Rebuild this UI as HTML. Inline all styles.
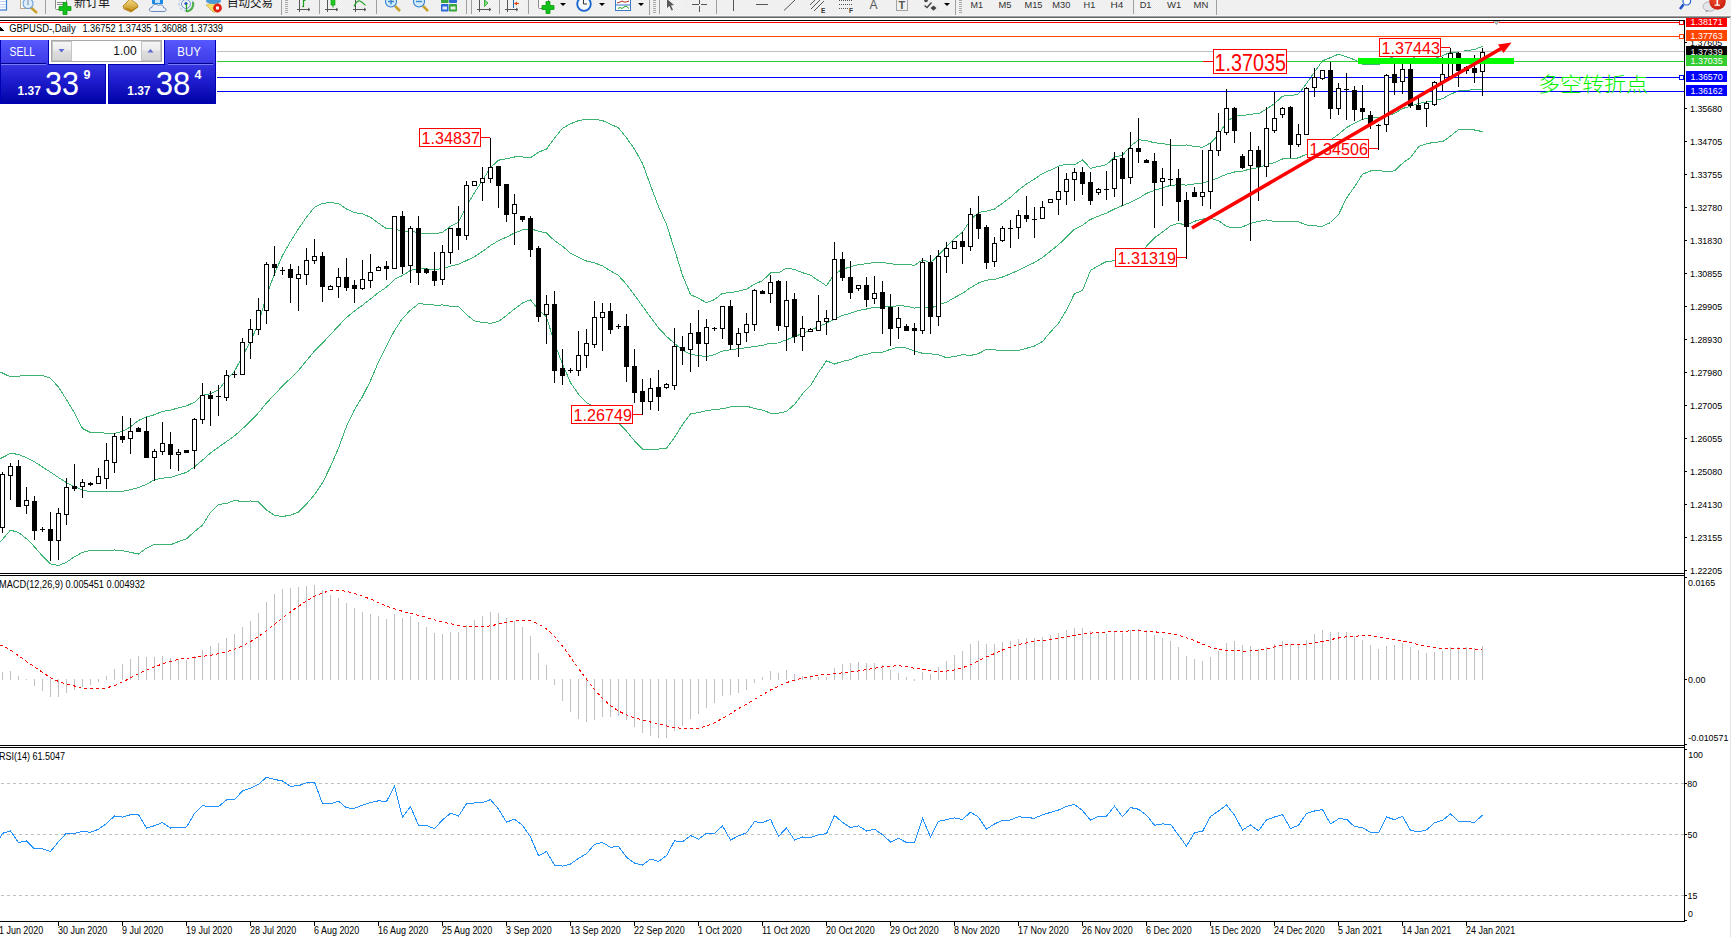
<!DOCTYPE html>
<html><head><meta charset="utf-8"><title>GBPUSD-,Daily</title>
<style>
html,body{margin:0;padding:0;background:#fff;width:1731px;height:937px;overflow:hidden;}
body{position:relative;font-family:"Liberation Sans","Noto Sans CJK SC",sans-serif;}
#tb{position:absolute;left:0;top:0;width:1731px;height:16px;background:#f0f0f0;overflow:hidden;}
#tbb{position:absolute;left:0;top:16px;width:1731px;height:1px;background:#a0a0a0;}
#tbl{position:absolute;left:0;top:15px;width:1731px;height:1px;background:#f6f6f6;}
#tbb2{position:absolute;left:0;top:17px;width:1731px;height:1px;background:#686868;}
#chart{position:absolute;left:0;top:0;}
.tt{position:absolute;font-size:11px;color:#222;line-height:11px;white-space:nowrap;}
.sep{position:absolute;top:0;width:1px;height:14px;background:#a0a0a0;}
#trade{position:absolute;left:0;top:40px;width:217px;height:64px;}
.bl{position:absolute;background:linear-gradient(#4848f4,#1010d8 50%,#0000a8);}
.bt{position:absolute;color:#fff;font-size:12px;line-height:12px;}
</style></head>
<body>
<div id="tb">
<svg width="1731" height="16" viewBox="0 0 1731 16" style="position:absolute;left:0;top:0">
<defs>
<pattern id="dith" width="2" height="2" patternUnits="userSpaceOnUse"><rect width="2" height="2" fill="#f7f7f7"/><rect width="1" height="1" fill="#ebebeb"/><rect x="1" y="1" width="1" height="1" fill="#ebebeb"/></pattern>
<linearGradient id="gb" x1="0" y1="0" x2="0" y2="1"><stop offset="0" stop-color="#f6e08a"/><stop offset="1" stop-color="#c08a10"/></linearGradient>
<radialGradient id="rb" cx="0.4" cy="0.35" r="0.7"><stop offset="0" stop-color="#f05030"/><stop offset="1" stop-color="#c81a08"/></radialGradient>
</defs>
<!-- doc icon partial -->
<rect x="-4.5" y="-3.5" width="11" height="13.5" fill="#fff" stroke="#3b7dd6" stroke-width="1.2"/>
<line x1="-4" y1="1.5" x2="6" y2="1.5" stroke="#b8cff0"/><line x1="-4" y1="4.5" x2="6" y2="4.5" stroke="#b8cff0"/><line x1="-4" y1="7" x2="6" y2="7" stroke="#b8cff0"/>
<!-- doc + magnifier -->
<rect x="20.5" y="-2.5" width="10" height="11" fill="#fbfbf6" stroke="#b8a78a"/>
<line x1="31" y1="7.5" x2="37" y2="13" stroke="#c9a02a" stroke-width="2.4"/>
<circle cx="28" cy="3.5" r="5" fill="#dcecf8" stroke="#6d9fd8" stroke-width="1.1"/>
<rect x="27" y="0" width="2" height="5" fill="#a9b9c8"/>
<rect x="45" y="0" width="1" height="14" fill="#a0a0a0"/>
<!-- new order -->
<rect x="55.5" y="-2.5" width="11" height="12" rx="1" fill="#fcfcfc" stroke="#8a8a8a"/>
<line x1="57" y1="2.5" x2="64" y2="2.5" stroke="#888"/><line x1="57" y1="4.5" x2="63" y2="4.5" stroke="#888"/>
<path d="M63 2.5h4v4h4v4h-4v4h-4v-4h-4v-4h4z" fill="#12c21a" stroke="#0a9a10" stroke-width="0.8"/>
<text x="74" y="6.6" font-family='"Liberation Sans","Noto Sans CJK SC",sans-serif' font-size="12.5" fill="#161616" textLength="36" lengthAdjust="spacingAndGlyphs">新订单</text>
<!-- gold book -->
<path d="M123 6 L130 -1 L137 4 L138 7 L131 12 L124 9 Z" fill="url(#gb)" stroke="#b07a10" stroke-width="0.8"/>
<path d="M126 8 L132 11 L137 7" fill="none" stroke="#a86e0a" stroke-width="0.8"/>
<!-- cloud terminal -->
<rect x="152" y="-1" width="11" height="5" fill="#1e88e5"/><rect x="155" y="0" width="5" height="3" fill="#bfe3ff"/>
<path d="M151.5 11.5 C148.5 11.5 148.5 7.5 152 7.5 C152.5 4 157 3.5 158.5 5.5 C160 4 164 5 163.5 7.8 C166.8 7.8 166.8 11.5 164 11.5 Z" fill="#eef2f8" stroke="#5a7db2" stroke-width="0.9"/>
<!-- wireless -->
<circle cx="186" cy="4" r="7" fill="none" stroke="#9cb8e8" stroke-width="1" stroke-dasharray="3 2"/>
<circle cx="186" cy="4" r="4.5" fill="none" stroke="#6a96dc" stroke-width="1"/>
<path d="M187 11.5 A7.5 7.5 0 0 0 193 2" fill="none" stroke="#4cae4c" stroke-width="2.2"/>
<circle cx="186" cy="3.5" r="1.6" fill="#2050c8"/><line x1="186.5" y1="4" x2="186.5" y2="12" stroke="#20a020" stroke-width="1.2"/>
<!-- auto trade -->
<path d="M206 5 L214 2 L221 5 L219 12 L213 12 Z" fill="#f3de6a" stroke="#b5a040" stroke-width="0.6"/>
<ellipse cx="213.5" cy="1" rx="7.5" ry="3" fill="#4a9ad8"/>
<circle cx="217.5" cy="8" r="4.4" fill="#e02010"/><rect x="216" y="6.5" width="3" height="3" fill="#fff"/>
<text x="227" y="6.6" font-family='"Liberation Sans","Noto Sans CJK SC",sans-serif' font-size="12.5" fill="#161616" textLength="46" lengthAdjust="spacingAndGlyphs">自动交易</text>
<rect x="281" y="0" width="1" height="16" fill="#a0a0a0"/>
<g fill="#a8a8a8"><rect x="285" y="0" width="3" height="1"/><rect x="285" y="2" width="3" height="1"/><rect x="285" y="4" width="3" height="1"/><rect x="285" y="6" width="3" height="1"/><rect x="285" y="8" width="3" height="1"/><rect x="285" y="10" width="3" height="1"/><rect x="285" y="12" width="3" height="1"/></g>
<!-- bar chart -->
<g stroke="#555" stroke-width="1" fill="none"><line x1="299.5" y1="0" x2="299.5" y2="12"/><line x1="297" y1="9.5" x2="310" y2="9.5"/><path d="M308 8 L310 9.5 L308 11"/></g>
<path d="M302 6.5 H303.5 V0.5 H305.5" fill="none" stroke="#18a018" stroke-width="1.2"/>
<rect x="319" y="0" width="1" height="14" fill="#a0a0a0"/>
<rect x="320" y="0" width="23" height="14" fill="url(#dith)"/>
<g stroke="#555" stroke-width="1" fill="none"><line x1="327.5" y1="0" x2="327.5" y2="12"/><line x1="325" y1="9.5" x2="338" y2="9.5"/><path d="M336 8 L338 9.5 L336 11"/></g>
<line x1="333" y1="0" x2="333" y2="7.5" stroke="#129012"/><rect x="331" y="-1" width="4" height="6" fill="#22cc22" stroke="#129012" stroke-width="0.6"/>
<!-- line chart -->
<g stroke="#555" stroke-width="1" fill="none"><line x1="355.5" y1="0" x2="355.5" y2="12"/><line x1="353" y1="9.5" x2="366" y2="9.5"/><path d="M364 8 L366 9.5 L364 11"/></g>
<path d="M354 6.5 Q357 0 360 1 Q362 2 365.5 5.3" fill="none" stroke="#22a022" stroke-width="1.1"/>
<rect x="376" y="0" width="1" height="14" fill="#a0a0a0"/>
<!-- zoom in / out -->
<line x1="395" y1="6" x2="400" y2="11" stroke="#c9a02a" stroke-width="2.5"/>
<circle cx="391" cy="1.5" r="5.5" fill="#d4ecfa" stroke="#2f7fd0" stroke-width="1.1"/>
<path d="M388 1.5 h6 M391 -1.5 v6" stroke="#3a86c8" stroke-width="1.4"/>
<line x1="423" y1="6" x2="428" y2="11" stroke="#c9a02a" stroke-width="2.5"/>
<circle cx="419" cy="1.5" r="5.5" fill="#d4ecfa" stroke="#2f7fd0" stroke-width="1.1"/>
<path d="M416 1.5 h6" stroke="#3a86c8" stroke-width="1.4"/>
<!-- tile -->
<rect x="441" y="-1" width="7.5" height="4" rx="0.8" fill="#3aa53a"/><rect x="449" y="-1" width="8" height="4" rx="0.8" fill="#2d6ad8"/>
<rect x="441" y="4" width="7.5" height="7.5" rx="0.8" fill="#2d6ad8"/><rect x="449" y="4" width="8" height="7.5" rx="0.8" fill="#3aa53a"/>
<rect x="442.5" y="6.5" width="4.5" height="3" fill="#fff" opacity="0.85"/><rect x="450.5" y="6.5" width="5" height="3" fill="#fff" opacity="0.85"/>
<rect x="466" y="0" width="1" height="14" fill="#a0a0a0"/><rect x="471" y="0" width="1" height="14" fill="#a0a0a0"/>
<rect x="472" y="0" width="24" height="14" fill="url(#dith)"/>
<g stroke="#555" stroke-width="1" fill="none"><line x1="479.5" y1="0" x2="479.5" y2="12"/><line x1="477" y1="9.5" x2="491" y2="9.5"/><path d="M489 8 L491 9.5 L489 11"/></g>
<path d="M484.5 0 L488 3 L484.5 6.5 Z" fill="#7ee07e" stroke="#22a022" stroke-width="0.8"/>
<rect x="499" y="0" width="1" height="14" fill="#a0a0a0"/>
<rect x="500" y="0" width="24" height="14" fill="url(#dith)"/>
<g stroke="#555" stroke-width="1" fill="none"><line x1="507.5" y1="0" x2="507.5" y2="12"/><line x1="505" y1="9.5" x2="518" y2="9.5"/><path d="M516 8 L518 9.5 L516 11"/></g>
<line x1="513.5" y1="0" x2="513.5" y2="8" stroke="#1a6ab0" stroke-width="1"/>
<path d="M514 3.5 L517 1.5 L517 3 L519 3 L519 4 L517 4 L517 5.5 Z" fill="#e0440a"/>
<rect x="528" y="0" width="1" height="14" fill="#a0a0a0"/>
<!-- new order 2 -->
<rect x="538.5" y="-2.5" width="10" height="11" rx="1" fill="#fcfcfc" stroke="#8a8a8a"/>
<path d="M546 1.5h4v4h4v4h-4v4h-4v-4h-4v-4h4z" fill="#12c21a" stroke="#0a9a10" stroke-width="0.8"/>
<path d="M560 3 h6 l-3 3 z" fill="#000"/>
<!-- clock -->
<circle cx="584" cy="4" r="6.8" fill="#f8f8f8" stroke="#1464d0" stroke-width="1.8"/>
<path d="M583.5 0 V4 H587" fill="none" stroke="#333" stroke-width="1"/>
<path d="M599 3 h6 l-3 3 z" fill="#000"/>
<!-- indicators -->
<rect x="615.5" y="-1.5" width="15" height="12" fill="#fff" stroke="#3a78c8" stroke-width="1"/>
<line x1="616" y1="5" x2="630" y2="5" stroke="#3a78c8"/>
<path d="M617 3 L620 2 L622 1 L624 2 L626 2 L629 1" fill="none" stroke="#b03020" stroke-width="1"/>
<path d="M618 8.5 L620 7.5 L622 8.5 L624 7 L626 6 L629 8.5" fill="none" stroke="#20a020" stroke-width="1"/>
<path d="M638 3 h6 l-3 3 z" fill="#000"/>
<rect x="649" y="0" width="1" height="16" fill="#a0a0a0"/>
<g fill="#a8a8a8"><rect x="653" y="0" width="3" height="1"/><rect x="653" y="2" width="3" height="1"/><rect x="653" y="4" width="3" height="1"/><rect x="653" y="6" width="3" height="1"/><rect x="653" y="8" width="3" height="1"/><rect x="653" y="10" width="3" height="1"/><rect x="653" y="12" width="3" height="1"/></g>
<rect x="659" y="0" width="1" height="14" fill="#a0a0a0"/>
<rect x="660" y="0" width="23" height="14" fill="url(#dith)"/>
<path d="M667 -1 L674 5 L671 5.5 L673 10 L671.5 10.5 L669.5 6 L667 8 Z" fill="#5a5a5a"/>
<!-- crosshair etc -->
<g fill="#555"><rect x="692" y="4" width="7" height="1"/><rect x="701" y="4" width="6" height="1"/><rect x="699" y="0" width="1" height="4"/><rect x="699" y="6" width="1" height="6"/></g>
<rect x="716" y="0" width="1" height="14" fill="#a0a0a0"/>
<rect x="733" y="0" width="1" height="11" fill="#555"/>
<rect x="756" y="4" width="12" height="1" fill="#555"/>
<line x1="784" y1="10.5" x2="795" y2="0" stroke="#555" stroke-width="1"/>
<g stroke="#555" stroke-width="1"><line x1="810" y1="5" x2="816" y2="-1"/><line x1="811" y1="9" x2="821" y2="-1"/><line x1="814" y1="11" x2="824" y2="1"/></g>
<text x="821" y="13" font-family='"Liberation Sans",sans-serif' font-size="6.5" font-weight="bold" fill="#333">E</text>
<g stroke="#555" stroke-width="1" stroke-dasharray="1 1"><line x1="839" y1="0.5" x2="852" y2="0.5"/><line x1="839" y1="4.5" x2="852" y2="4.5"/><line x1="839" y1="8.5" x2="848" y2="8.5"/></g>
<text x="849" y="13" font-family='"Liberation Sans",sans-serif' font-size="6.5" font-weight="bold" fill="#333">F</text>
<text x="869.5" y="9" font-family='"Liberation Sans",sans-serif' font-size="12" fill="#555">A</text>
<rect x="896.5" y="-1.5" width="11" height="12" fill="none" stroke="#555" stroke-dasharray="1 1"/>
<text x="898.5" y="8.5" font-family='"Liberation Sans",sans-serif' font-size="11" font-weight="bold" fill="#555">T</text>
<g fill="#444"><circle cx="926" cy="0.5" r="1.8"/><path d="M924.5 5.5 L927 7.5 L931.5 2.5" fill="none" stroke="#444" stroke-width="1.3"/><path d="M933.5 5.5 L936.5 8 L933.5 10.8 L930.5 8 Z"/></g>
<path d="M944 3 h6 l-3 3 z" fill="#000"/>
<rect x="955" y="0" width="1" height="16" fill="#a0a0a0"/>
<g fill="#a8a8a8"><rect x="959" y="0" width="3" height="1"/><rect x="959" y="2" width="3" height="1"/><rect x="959" y="4" width="3" height="1"/><rect x="959" y="6" width="3" height="1"/><rect x="959" y="8" width="3" height="1"/><rect x="959" y="10" width="3" height="1"/><rect x="959" y="12" width="3" height="1"/></g>
<g font-family='"Liberation Sans",sans-serif' font-size="9.6" fill="#333">
<text x="970.5" y="8" textLength="12.5" lengthAdjust="spacingAndGlyphs">M1</text>
<text x="998.5" y="8" textLength="13" lengthAdjust="spacingAndGlyphs">M5</text>
<text x="1024.5" y="8" textLength="18" lengthAdjust="spacingAndGlyphs">M15</text>
<text x="1052.3" y="8" textLength="18" lengthAdjust="spacingAndGlyphs">M30</text>
<text x="1083.5" y="8" textLength="11.8" lengthAdjust="spacingAndGlyphs">H1</text>
<text x="1110.5" y="8" textLength="12.8" lengthAdjust="spacingAndGlyphs">H4</text>
</g>
<rect x="1133" y="0" width="1" height="14" fill="#a0a0a0"/>
<rect x="1134" y="0" width="24" height="14" fill="url(#dith)"/>
<g font-family='"Liberation Sans",sans-serif' font-size="9.6" fill="#333">
<text x="1139.7" y="8" textLength="11.8" lengthAdjust="spacingAndGlyphs">D1</text>
<text x="1167" y="8" textLength="14.3" lengthAdjust="spacingAndGlyphs">W1</text>
<text x="1193.6" y="8" textLength="14.9" lengthAdjust="spacingAndGlyphs">MN</text>
</g>
<rect x="1216" y="0" width="1" height="16" fill="#a0a0a0"/>
<!-- search -->
<line x1="1683.5" y1="4.5" x2="1680" y2="9" stroke="#2050c8" stroke-width="2.6"/>
<circle cx="1686.8" cy="1.2" r="3.8" fill="#fff" stroke="#2a62d4" stroke-width="1.2"/>
<!-- notify -->
<ellipse cx="1709.5" cy="6.5" rx="6.5" ry="4.8" fill="#e4e6ec" stroke="#a8a8b0" stroke-width="0.8"/>
<path d="M1706 10 L1705.5 12.5 L1709 10.5 Z" fill="#999"/>
<circle cx="1717.5" cy="1.5" r="8.2" fill="url(#rb)"/>
<rect x="1716.5" y="-3" width="1.6" height="8" fill="#fff"/><rect x="1714.5" y="4.6" width="5.5" height="1.2" fill="#fff"/>
</svg>

</div>
<div id="tbl"></div><div id="tbb"></div><div id="tbb2"></div>
<svg id="chart" width="1731" height="937" viewBox="0 0 1731 937" shape-rendering="crispEdges">
<polyline points="0.0,372.0 2.5,373.0 10.5,376.9 18.5,376.1 26.5,375.6 34.5,375.4 42.5,375.4 50.5,378.2 58.5,387.1 66.5,399.6 74.5,413.0 82.5,428.5 90.5,432.5 98.5,432.8 106.5,433.1 114.5,433.5 122.5,431.4 130.5,426.9 138.5,420.4 146.5,417.0 154.5,414.7 162.5,411.4 170.5,410.1 178.5,407.9 186.5,405.9 194.5,402.2 202.5,395.2 210.5,393.8 218.5,390.0 226.5,379.6 234.5,371.3 242.5,356.1 250.5,341.1 258.5,323.7 266.5,295.8 274.5,273.6 282.5,255.5 290.5,241.5 298.5,228.8 306.5,217.2 314.5,207.1 322.5,203.2 330.5,202.7 338.5,203.5 346.5,209.0 354.5,212.5 362.5,213.9 370.5,217.3 378.5,223.2 386.5,228.6 394.5,227.8 402.5,232.7 410.5,230.7 418.5,233.2 426.5,233.6 434.5,233.9 442.5,232.3 450.5,226.2 458.5,222.3 466.5,206.3 474.5,192.6 482.5,180.4 490.5,167.5 498.5,160.2 506.5,158.7 514.5,157.0 522.5,156.9 530.5,157.8 538.5,152.2 546.5,149.1 554.5,138.1 562.5,128.2 570.5,123.8 578.5,120.6 586.5,119.2 594.5,119.1 602.5,120.6 610.5,124.2 618.5,127.8 626.5,137.8 634.5,149.1 642.5,163.4 650.5,185.4 658.5,206.5 666.5,224.5 674.5,249.4 682.5,275.2 690.5,294.6 698.5,298.3 706.5,302.7 714.5,299.6 722.5,293.3 730.5,292.6 738.5,291.1 746.5,289.3 754.5,284.2 762.5,280.7 770.5,273.0 778.5,272.9 786.5,268.1 794.5,269.5 802.5,272.7 810.5,275.2 818.5,280.6 826.5,285.8 834.5,273.9 842.5,269.2 850.5,266.8 858.5,264.6 866.5,263.7 874.5,262.4 882.5,262.5 890.5,263.8 898.5,264.4 906.5,264.1 914.5,265.4 922.5,259.8 930.5,262.8 938.5,254.9 946.5,246.8 954.5,238.5 962.5,232.1 970.5,219.9 978.5,212.4 986.5,211.1 994.5,209.0 1002.5,203.2 1010.5,197.4 1018.5,190.0 1026.5,184.1 1034.5,179.0 1042.5,173.5 1050.5,170.1 1058.5,166.1 1066.5,164.2 1074.5,164.9 1082.5,159.9 1090.5,168.4 1098.5,166.5 1106.5,164.7 1114.5,157.1 1122.5,155.0 1130.5,146.3 1138.5,139.7 1146.5,140.7 1154.5,142.8 1162.5,143.6 1170.5,145.0 1178.5,146.0 1186.5,144.9 1194.5,146.5 1202.5,147.2 1210.5,143.0 1218.5,134.8 1226.5,121.8 1234.5,116.2 1242.5,115.6 1250.5,114.1 1258.5,113.8 1266.5,109.2 1274.5,103.6 1282.5,96.1 1290.5,95.7 1298.5,94.0 1306.5,83.5 1314.5,72.0 1322.5,60.8 1330.5,57.6 1338.5,54.1 1346.5,56.9 1354.5,59.7 1362.5,64.1 1370.5,64.6 1378.5,64.6 1386.5,59.9 1394.5,56.1 1402.5,53.8 1410.5,55.1 1418.5,60.2 1426.5,60.5 1434.5,58.6 1442.5,55.7 1450.5,52.4 1458.5,52.2 1466.5,50.4 1474.5,49.7 1482.5,46.2" fill="none" stroke="#3cb371" stroke-width="1" />
<polyline points="0.0,458.7 2.5,457.6 10.5,453.2 18.5,454.5 26.5,457.6 34.5,461.8 42.5,467.0 50.5,472.2 58.5,477.5 66.5,482.6 74.5,486.7 82.5,489.9 90.5,491.7 98.5,491.7 106.5,491.6 114.5,491.5 122.5,491.3 130.5,489.7 138.5,487.6 146.5,484.3 154.5,479.6 162.5,478.1 170.5,477.5 178.5,474.8 186.5,472.4 194.5,466.8 202.5,460.1 210.5,453.0 218.5,447.2 226.5,441.6 234.5,435.9 242.5,428.8 250.5,421.1 258.5,412.8 266.5,403.0 274.5,394.5 282.5,386.0 290.5,378.3 298.5,370.5 306.5,360.6 314.5,350.9 322.5,343.0 330.5,334.6 338.5,325.9 346.5,317.6 354.5,311.0 362.5,305.2 370.5,299.0 378.5,292.5 386.5,287.2 394.5,279.3 402.5,275.5 410.5,270.4 418.5,268.5 426.5,268.9 434.5,269.5 442.5,268.7 450.5,266.2 458.5,264.2 466.5,260.5 474.5,256.7 482.5,251.4 490.5,245.4 498.5,240.8 506.5,237.1 514.5,233.0 522.5,229.9 530.5,228.8 538.5,231.2 546.5,233.0 554.5,240.7 562.5,246.2 570.5,253.2 578.5,257.4 586.5,261.0 594.5,262.9 602.5,265.9 610.5,270.9 618.5,275.5 626.5,284.5 634.5,295.0 642.5,306.2 650.5,317.2 658.5,327.8 666.5,336.3 674.5,343.4 682.5,350.0 690.5,354.2 698.5,355.5 706.5,356.6 714.5,354.5 722.5,351.1 730.5,349.8 738.5,348.6 746.5,347.7 754.5,346.4 762.5,345.4 770.5,343.1 778.5,343.0 786.5,339.7 794.5,336.9 802.5,333.2 810.5,330.3 818.5,326.6 826.5,323.3 834.5,318.9 842.5,315.3 850.5,313.3 858.5,310.4 866.5,309.0 874.5,307.3 882.5,307.3 890.5,306.5 898.5,305.8 906.5,306.1 914.5,308.1 922.5,306.6 930.5,308.3 938.5,304.8 946.5,302.3 954.5,297.5 962.5,293.4 970.5,287.7 978.5,283.0 986.5,280.2 994.5,279.4 1002.5,277.0 1010.5,273.8 1018.5,270.3 1026.5,266.2 1034.5,262.5 1042.5,257.5 1050.5,251.1 1058.5,244.7 1066.5,237.1 1074.5,229.2 1082.5,225.2 1090.5,219.4 1098.5,216.1 1106.5,213.1 1114.5,209.0 1122.5,205.6 1130.5,202.3 1138.5,198.4 1146.5,193.4 1154.5,190.3 1162.5,187.8 1170.5,185.4 1178.5,184.7 1186.5,185.1 1194.5,183.9 1202.5,183.2 1210.5,180.7 1218.5,177.7 1226.5,174.2 1234.5,172.0 1242.5,171.2 1250.5,168.8 1258.5,167.6 1266.5,164.6 1274.5,162.5 1282.5,159.0 1290.5,158.8 1298.5,157.9 1306.5,154.2 1314.5,149.0 1322.5,143.6 1330.5,140.0 1338.5,134.4 1346.5,127.6 1354.5,123.2 1362.5,119.2 1370.5,117.8 1378.5,117.5 1386.5,115.8 1394.5,113.4 1402.5,108.6 1410.5,106.3 1418.5,103.4 1426.5,102.2 1434.5,100.4 1442.5,98.7 1450.5,94.2 1458.5,91.0 1466.5,90.1 1474.5,89.9 1482.5,88.9" fill="none" stroke="#3cb371" stroke-width="1" />
<polyline points="0.0,541.7 2.5,539.4 10.5,530.1 18.5,532.5 26.5,538.7 34.5,546.8 42.5,556.2 50.5,563.8 58.5,565.7 66.5,562.2 74.5,556.7 82.5,552.4 90.5,550.5 98.5,550.5 106.5,550.2 114.5,550.0 122.5,550.7 130.5,552.4 138.5,554.0 146.5,548.1 154.5,544.5 162.5,544.8 170.5,544.8 178.5,541.6 186.5,538.8 194.5,531.5 202.5,525.1 210.5,512.3 218.5,504.4 226.5,503.5 234.5,500.4 242.5,501.6 250.5,501.0 258.5,501.9 266.5,510.1 274.5,515.4 282.5,516.5 290.5,515.2 298.5,512.1 306.5,504.0 314.5,494.7 322.5,482.8 330.5,466.5 338.5,448.2 346.5,426.3 354.5,409.6 362.5,396.6 370.5,380.7 378.5,361.9 386.5,345.7 394.5,330.7 402.5,318.3 410.5,310.2 418.5,303.8 426.5,304.2 434.5,305.1 442.5,305.0 450.5,306.2 458.5,306.2 466.5,314.7 474.5,320.9 482.5,322.4 490.5,323.3 498.5,321.4 506.5,315.5 514.5,308.9 522.5,303.0 530.5,299.7 538.5,310.2 546.5,316.9 554.5,343.2 562.5,364.1 570.5,382.7 578.5,394.2 586.5,402.8 594.5,406.6 602.5,411.1 610.5,417.6 618.5,423.2 626.5,431.2 634.5,440.9 642.5,449.0 650.5,449.0 658.5,449.1 666.5,448.1 674.5,437.4 682.5,424.7 690.5,413.7 698.5,412.7 706.5,410.6 714.5,409.5 722.5,408.8 730.5,406.9 738.5,406.1 746.5,406.1 754.5,408.5 762.5,410.1 770.5,413.1 778.5,413.1 786.5,411.4 794.5,404.4 802.5,393.8 810.5,385.5 818.5,372.5 826.5,360.8 834.5,364.0 842.5,361.4 850.5,359.7 858.5,356.1 866.5,354.3 874.5,352.2 882.5,352.2 890.5,349.3 898.5,347.2 906.5,348.1 914.5,350.9 922.5,353.3 930.5,353.8 938.5,354.7 946.5,357.8 954.5,356.5 962.5,354.7 970.5,355.5 978.5,353.6 986.5,349.3 994.5,349.8 1002.5,350.8 1010.5,350.2 1018.5,350.5 1026.5,348.3 1034.5,346.0 1042.5,341.5 1050.5,332.0 1058.5,323.3 1066.5,310.1 1074.5,293.5 1082.5,290.6 1090.5,270.4 1098.5,265.6 1106.5,261.5 1114.5,260.8 1122.5,256.1 1130.5,258.2 1138.5,257.2 1146.5,246.1 1154.5,237.8 1162.5,232.1 1170.5,225.8 1178.5,223.3 1186.5,225.2 1194.5,221.3 1202.5,219.1 1210.5,218.4 1218.5,220.6 1226.5,226.6 1234.5,227.9 1242.5,226.9 1250.5,223.4 1258.5,221.4 1266.5,219.9 1274.5,221.4 1282.5,222.0 1290.5,221.9 1298.5,221.9 1306.5,224.9 1314.5,225.9 1322.5,226.3 1330.5,222.5 1338.5,214.7 1346.5,198.2 1354.5,186.8 1362.5,174.2 1370.5,171.0 1378.5,170.4 1386.5,171.7 1394.5,170.8 1402.5,163.3 1410.5,157.5 1418.5,146.7 1426.5,143.8 1434.5,142.2 1442.5,141.8 1450.5,136.0 1458.5,129.7 1466.5,129.9 1474.5,130.0 1482.5,131.6" fill="none" stroke="#3cb371" stroke-width="1" />
<rect x="0" y="22" width="1684" height="1" fill="#ff0000"/>
<rect x="0" y="36" width="1684" height="1" fill="#ff4500"/>
<rect x="0" y="51" width="1684" height="1" fill="#c0c0c0"/>
<rect x="0" y="61" width="1684" height="1" fill="#32cd32"/>
<rect x="0" y="77" width="1684" height="1" fill="#0000ff"/>
<rect x="0" y="91" width="1684" height="1" fill="#0000ff"/>
<rect x="2" y="472" width="1" height="61" fill="#000"/>
<rect x="0.5" y="474.5" width="4" height="53" fill="#fff" stroke="#000" stroke-width="1"/>
<rect x="10" y="463" width="1" height="37" fill="#000"/>
<rect x="8.5" y="466.5" width="4" height="9" fill="#fff" stroke="#000" stroke-width="1"/>
<rect x="18" y="460" width="1" height="47" fill="#000"/>
<rect x="16" y="466" width="5" height="41" fill="#000"/>
<rect x="26" y="487" width="1" height="27" fill="#000"/>
<rect x="24.5" y="500.5" width="4" height="5" fill="#fff" stroke="#000" stroke-width="1"/>
<rect x="34" y="496" width="1" height="44" fill="#000"/>
<rect x="32" y="501" width="5" height="30" fill="#000"/>
<rect x="42" y="527" width="1" height="5" fill="#000"/>
<rect x="40" y="529" width="5" height="1" fill="#000"/>
<rect x="50" y="512" width="1" height="49" fill="#000"/>
<rect x="48" y="529" width="5" height="12" fill="#000"/>
<rect x="58" y="508" width="1" height="52" fill="#000"/>
<rect x="56.5" y="513.5" width="4" height="27" fill="#fff" stroke="#000" stroke-width="1"/>
<rect x="66" y="478" width="1" height="47" fill="#000"/>
<rect x="64.5" y="487.5" width="4" height="27" fill="#fff" stroke="#000" stroke-width="1"/>
<rect x="74" y="464" width="1" height="27" fill="#000"/>
<rect x="72" y="486" width="5" height="3" fill="#000"/>
<rect x="82" y="479" width="1" height="19" fill="#000"/>
<rect x="80.5" y="482.5" width="4" height="4" fill="#fff" stroke="#000" stroke-width="1"/>
<rect x="90" y="482" width="1" height="4" fill="#000"/>
<rect x="88" y="483" width="5" height="2" fill="#000"/>
<rect x="98" y="468" width="1" height="16" fill="#000"/>
<rect x="96.5" y="476.5" width="4" height="7" fill="#fff" stroke="#000" stroke-width="1"/>
<rect x="106" y="443" width="1" height="46" fill="#000"/>
<rect x="104.5" y="460.5" width="4" height="18" fill="#fff" stroke="#000" stroke-width="1"/>
<rect x="114" y="433" width="1" height="40" fill="#000"/>
<rect x="112.5" y="436.5" width="4" height="26" fill="#fff" stroke="#000" stroke-width="1"/>
<rect x="122" y="416" width="1" height="27" fill="#000"/>
<rect x="120" y="436" width="5" height="4" fill="#000"/>
<rect x="130" y="418" width="1" height="36" fill="#000"/>
<rect x="128.5" y="431.5" width="4" height="7" fill="#fff" stroke="#000" stroke-width="1"/>
<rect x="138" y="427" width="1" height="5" fill="#000"/>
<rect x="136" y="428" width="5" height="4" fill="#000"/>
<rect x="146" y="417" width="1" height="41" fill="#000"/>
<rect x="144" y="431" width="5" height="27" fill="#000"/>
<rect x="154" y="449" width="1" height="32" fill="#000"/>
<rect x="152.5" y="451.5" width="4" height="6" fill="#fff" stroke="#000" stroke-width="1"/>
<rect x="162" y="422" width="1" height="33" fill="#000"/>
<rect x="160.5" y="443.5" width="4" height="8" fill="#fff" stroke="#000" stroke-width="1"/>
<rect x="170" y="432" width="1" height="37" fill="#000"/>
<rect x="168" y="444" width="5" height="11" fill="#000"/>
<rect x="178" y="449" width="1" height="22" fill="#000"/>
<rect x="176.5" y="452.5" width="4" height="2" fill="#fff" stroke="#000" stroke-width="1"/>
<rect x="186" y="450" width="1" height="3" fill="#000"/>
<rect x="184" y="450" width="5" height="3" fill="#000"/>
<rect x="194" y="418" width="1" height="51" fill="#000"/>
<rect x="192.5" y="419.5" width="4" height="31" fill="#fff" stroke="#000" stroke-width="1"/>
<rect x="202" y="383" width="1" height="41" fill="#000"/>
<rect x="200.5" y="395.5" width="4" height="24" fill="#fff" stroke="#000" stroke-width="1"/>
<rect x="210" y="391" width="1" height="35" fill="#000"/>
<rect x="208" y="395" width="5" height="4" fill="#000"/>
<rect x="218" y="385" width="1" height="31" fill="#000"/>
<rect x="216" y="396" width="5" height="1" fill="#000"/>
<rect x="226" y="370" width="1" height="31" fill="#000"/>
<rect x="224.5" y="375.5" width="4" height="22" fill="#fff" stroke="#000" stroke-width="1"/>
<rect x="234" y="371" width="1" height="7" fill="#000"/>
<rect x="232" y="374" width="5" height="1" fill="#000"/>
<rect x="242" y="338" width="1" height="37" fill="#000"/>
<rect x="240.5" y="342.5" width="4" height="32" fill="#fff" stroke="#000" stroke-width="1"/>
<rect x="250" y="319" width="1" height="40" fill="#000"/>
<rect x="248.5" y="329.5" width="4" height="13" fill="#fff" stroke="#000" stroke-width="1"/>
<rect x="258" y="298" width="1" height="37" fill="#000"/>
<rect x="256.5" y="310.5" width="4" height="19" fill="#fff" stroke="#000" stroke-width="1"/>
<rect x="266" y="262" width="1" height="62" fill="#000"/>
<rect x="264.5" y="264.5" width="4" height="46" fill="#fff" stroke="#000" stroke-width="1"/>
<rect x="274" y="246" width="1" height="30" fill="#000"/>
<rect x="272" y="264" width="5" height="4" fill="#000"/>
<rect x="282" y="267" width="1" height="8" fill="#000"/>
<rect x="280" y="270" width="5" height="1" fill="#000"/>
<rect x="290" y="264" width="1" height="39" fill="#000"/>
<rect x="288" y="269" width="5" height="9" fill="#000"/>
<rect x="298" y="266" width="1" height="45" fill="#000"/>
<rect x="296.5" y="274.5" width="4" height="4" fill="#fff" stroke="#000" stroke-width="1"/>
<rect x="306" y="248" width="1" height="37" fill="#000"/>
<rect x="304.5" y="260.5" width="4" height="14" fill="#fff" stroke="#000" stroke-width="1"/>
<rect x="314" y="239" width="1" height="25" fill="#000"/>
<rect x="312.5" y="256.5" width="4" height="4" fill="#fff" stroke="#000" stroke-width="1"/>
<rect x="322" y="252" width="1" height="50" fill="#000"/>
<rect x="320" y="256" width="5" height="31" fill="#000"/>
<rect x="330" y="285" width="1" height="5" fill="#000"/>
<rect x="328.5" y="286.5" width="4" height="3" fill="#fff" stroke="#000" stroke-width="1"/>
<rect x="338" y="268" width="1" height="30" fill="#000"/>
<rect x="336.5" y="277.5" width="4" height="9" fill="#fff" stroke="#000" stroke-width="1"/>
<rect x="346" y="258" width="1" height="33" fill="#000"/>
<rect x="344" y="277" width="5" height="11" fill="#000"/>
<rect x="354" y="280" width="1" height="23" fill="#000"/>
<rect x="352" y="285" width="5" height="4" fill="#000"/>
<rect x="362" y="260" width="1" height="30" fill="#000"/>
<rect x="360.5" y="279.5" width="4" height="9" fill="#fff" stroke="#000" stroke-width="1"/>
<rect x="370" y="254" width="1" height="34" fill="#000"/>
<rect x="368.5" y="272.5" width="4" height="8" fill="#fff" stroke="#000" stroke-width="1"/>
<rect x="378" y="266" width="1" height="5" fill="#000"/>
<rect x="376.5" y="267.5" width="4" height="3" fill="#fff" stroke="#000" stroke-width="1"/>
<rect x="386" y="261" width="1" height="19" fill="#000"/>
<rect x="384" y="266" width="5" height="3" fill="#000"/>
<rect x="394" y="216" width="1" height="53" fill="#000"/>
<rect x="392.5" y="216.5" width="4" height="52" fill="#fff" stroke="#000" stroke-width="1"/>
<rect x="402" y="211" width="1" height="63" fill="#000"/>
<rect x="400" y="216" width="5" height="51" fill="#000"/>
<rect x="410" y="226" width="1" height="57" fill="#000"/>
<rect x="408.5" y="228.5" width="4" height="37" fill="#fff" stroke="#000" stroke-width="1"/>
<rect x="418" y="216" width="1" height="69" fill="#000"/>
<rect x="416" y="228" width="5" height="45" fill="#000"/>
<rect x="426" y="268" width="1" height="6" fill="#000"/>
<rect x="424" y="269" width="5" height="4" fill="#000"/>
<rect x="434" y="252" width="1" height="34" fill="#000"/>
<rect x="432" y="271" width="5" height="10" fill="#000"/>
<rect x="442" y="245" width="1" height="40" fill="#000"/>
<rect x="440.5" y="252.5" width="4" height="27" fill="#fff" stroke="#000" stroke-width="1"/>
<rect x="450" y="228" width="1" height="36" fill="#000"/>
<rect x="448.5" y="228.5" width="4" height="24" fill="#fff" stroke="#000" stroke-width="1"/>
<rect x="458" y="206" width="1" height="44" fill="#000"/>
<rect x="456" y="228" width="5" height="8" fill="#000"/>
<rect x="466" y="181" width="1" height="59" fill="#000"/>
<rect x="464.5" y="185.5" width="4" height="50" fill="#fff" stroke="#000" stroke-width="1"/>
<rect x="474" y="181" width="1" height="5" fill="#000"/>
<rect x="472.5" y="181.5" width="4" height="4" fill="#fff" stroke="#000" stroke-width="1"/>
<rect x="482" y="167" width="1" height="34" fill="#000"/>
<rect x="480.5" y="178.5" width="4" height="4" fill="#fff" stroke="#000" stroke-width="1"/>
<rect x="490" y="138" width="1" height="45" fill="#000"/>
<rect x="488.5" y="167.5" width="4" height="11" fill="#fff" stroke="#000" stroke-width="1"/>
<rect x="498" y="166" width="1" height="42" fill="#000"/>
<rect x="496" y="166" width="5" height="20" fill="#000"/>
<rect x="506" y="184" width="1" height="38" fill="#000"/>
<rect x="504" y="184" width="5" height="31" fill="#000"/>
<rect x="514" y="194" width="1" height="51" fill="#000"/>
<rect x="512.5" y="204.5" width="4" height="9" fill="#fff" stroke="#000" stroke-width="1"/>
<rect x="522" y="216" width="1" height="6" fill="#000"/>
<rect x="520" y="216" width="5" height="4" fill="#000"/>
<rect x="530" y="216" width="1" height="41" fill="#000"/>
<rect x="528" y="218" width="5" height="32" fill="#000"/>
<rect x="538" y="246" width="1" height="76" fill="#000"/>
<rect x="536" y="248" width="5" height="69" fill="#000"/>
<rect x="546" y="295" width="1" height="49" fill="#000"/>
<rect x="544.5" y="304.5" width="4" height="10" fill="#fff" stroke="#000" stroke-width="1"/>
<rect x="554" y="291" width="1" height="92" fill="#000"/>
<rect x="552" y="304" width="5" height="67" fill="#000"/>
<rect x="562" y="349" width="1" height="36" fill="#000"/>
<rect x="560" y="368" width="5" height="8" fill="#000"/>
<rect x="570" y="368" width="1" height="5" fill="#000"/>
<rect x="568" y="370" width="5" height="1" fill="#000"/>
<rect x="578" y="331" width="1" height="45" fill="#000"/>
<rect x="576.5" y="355.5" width="4" height="15" fill="#fff" stroke="#000" stroke-width="1"/>
<rect x="586" y="329" width="1" height="39" fill="#000"/>
<rect x="584.5" y="343.5" width="4" height="12" fill="#fff" stroke="#000" stroke-width="1"/>
<rect x="594" y="301" width="1" height="47" fill="#000"/>
<rect x="592.5" y="317.5" width="4" height="27" fill="#fff" stroke="#000" stroke-width="1"/>
<rect x="602" y="303" width="1" height="48" fill="#000"/>
<rect x="600.5" y="312.5" width="4" height="5" fill="#fff" stroke="#000" stroke-width="1"/>
<rect x="610" y="303" width="1" height="31" fill="#000"/>
<rect x="608" y="311" width="5" height="19" fill="#000"/>
<rect x="618" y="324" width="1" height="5" fill="#000"/>
<rect x="616" y="326" width="5" height="1" fill="#000"/>
<rect x="626" y="314" width="1" height="68" fill="#000"/>
<rect x="624" y="326" width="5" height="41" fill="#000"/>
<rect x="634" y="349" width="1" height="54" fill="#000"/>
<rect x="632" y="366" width="5" height="27" fill="#000"/>
<rect x="642" y="379" width="1" height="36" fill="#000"/>
<rect x="640" y="391" width="5" height="11" fill="#000"/>
<rect x="650" y="378" width="1" height="32" fill="#000"/>
<rect x="648.5" y="388.5" width="4" height="13" fill="#fff" stroke="#000" stroke-width="1"/>
<rect x="658" y="370" width="1" height="41" fill="#000"/>
<rect x="656" y="387" width="5" height="10" fill="#000"/>
<rect x="666" y="383" width="1" height="6" fill="#000"/>
<rect x="664.5" y="384.5" width="4" height="3" fill="#fff" stroke="#000" stroke-width="1"/>
<rect x="674" y="328" width="1" height="62" fill="#000"/>
<rect x="672.5" y="346.5" width="4" height="39" fill="#fff" stroke="#000" stroke-width="1"/>
<rect x="682" y="336" width="1" height="29" fill="#000"/>
<rect x="680" y="347" width="5" height="4" fill="#000"/>
<rect x="690" y="323" width="1" height="49" fill="#000"/>
<rect x="688.5" y="333.5" width="4" height="16" fill="#fff" stroke="#000" stroke-width="1"/>
<rect x="698" y="310" width="1" height="57" fill="#000"/>
<rect x="696" y="332" width="5" height="12" fill="#000"/>
<rect x="706" y="319" width="1" height="42" fill="#000"/>
<rect x="704.5" y="327.5" width="4" height="16" fill="#fff" stroke="#000" stroke-width="1"/>
<rect x="714" y="327" width="1" height="4" fill="#000"/>
<rect x="712" y="328" width="5" height="1" fill="#000"/>
<rect x="722" y="306" width="1" height="33" fill="#000"/>
<rect x="720.5" y="306.5" width="4" height="22" fill="#fff" stroke="#000" stroke-width="1"/>
<rect x="730" y="300" width="1" height="50" fill="#000"/>
<rect x="728" y="306" width="5" height="39" fill="#000"/>
<rect x="738" y="328" width="1" height="29" fill="#000"/>
<rect x="736.5" y="333.5" width="4" height="11" fill="#fff" stroke="#000" stroke-width="1"/>
<rect x="746" y="313" width="1" height="29" fill="#000"/>
<rect x="744.5" y="324.5" width="4" height="8" fill="#fff" stroke="#000" stroke-width="1"/>
<rect x="754" y="289" width="1" height="42" fill="#000"/>
<rect x="752.5" y="290.5" width="4" height="34" fill="#fff" stroke="#000" stroke-width="1"/>
<rect x="762" y="290" width="1" height="4" fill="#000"/>
<rect x="760" y="291" width="5" height="3" fill="#000"/>
<rect x="770" y="275" width="1" height="28" fill="#000"/>
<rect x="768.5" y="282.5" width="4" height="11" fill="#fff" stroke="#000" stroke-width="1"/>
<rect x="778" y="280" width="1" height="51" fill="#000"/>
<rect x="776" y="281" width="5" height="45" fill="#000"/>
<rect x="786" y="281" width="1" height="70" fill="#000"/>
<rect x="784.5" y="300.5" width="4" height="26" fill="#fff" stroke="#000" stroke-width="1"/>
<rect x="794" y="293" width="1" height="50" fill="#000"/>
<rect x="792" y="299" width="5" height="38" fill="#000"/>
<rect x="802" y="316" width="1" height="35" fill="#000"/>
<rect x="800.5" y="328.5" width="4" height="8" fill="#fff" stroke="#000" stroke-width="1"/>
<rect x="810" y="328" width="1" height="4" fill="#000"/>
<rect x="808.5" y="329.5" width="4" height="2" fill="#fff" stroke="#000" stroke-width="1"/>
<rect x="818" y="295" width="1" height="36" fill="#000"/>
<rect x="816.5" y="321.5" width="4" height="9" fill="#fff" stroke="#000" stroke-width="1"/>
<rect x="826" y="310" width="1" height="25" fill="#000"/>
<rect x="824.5" y="318.5" width="4" height="3" fill="#fff" stroke="#000" stroke-width="1"/>
<rect x="834" y="242" width="1" height="78" fill="#000"/>
<rect x="832.5" y="259.5" width="4" height="60" fill="#fff" stroke="#000" stroke-width="1"/>
<rect x="842" y="252" width="1" height="29" fill="#000"/>
<rect x="840" y="259" width="5" height="19" fill="#000"/>
<rect x="850" y="261" width="1" height="38" fill="#000"/>
<rect x="848" y="277" width="5" height="16" fill="#000"/>
<rect x="858" y="285" width="1" height="6" fill="#000"/>
<rect x="856.5" y="285.5" width="4" height="3" fill="#fff" stroke="#000" stroke-width="1"/>
<rect x="866" y="277" width="1" height="30" fill="#000"/>
<rect x="864" y="285" width="5" height="15" fill="#000"/>
<rect x="874" y="276" width="1" height="28" fill="#000"/>
<rect x="872.5" y="293.5" width="4" height="5" fill="#fff" stroke="#000" stroke-width="1"/>
<rect x="882" y="281" width="1" height="53" fill="#000"/>
<rect x="880" y="292" width="5" height="17" fill="#000"/>
<rect x="890" y="294" width="1" height="52" fill="#000"/>
<rect x="888" y="307" width="5" height="22" fill="#000"/>
<rect x="898" y="307" width="1" height="32" fill="#000"/>
<rect x="896.5" y="318.5" width="4" height="9" fill="#fff" stroke="#000" stroke-width="1"/>
<rect x="906" y="324" width="1" height="7" fill="#000"/>
<rect x="904" y="326" width="5" height="5" fill="#000"/>
<rect x="914" y="323" width="1" height="32" fill="#000"/>
<rect x="912" y="328" width="5" height="3" fill="#000"/>
<rect x="922" y="258" width="1" height="76" fill="#000"/>
<rect x="920.5" y="262.5" width="4" height="68" fill="#fff" stroke="#000" stroke-width="1"/>
<rect x="930" y="255" width="1" height="79" fill="#000"/>
<rect x="928" y="262" width="5" height="55" fill="#000"/>
<rect x="938" y="250" width="1" height="76" fill="#000"/>
<rect x="936.5" y="256.5" width="4" height="60" fill="#fff" stroke="#000" stroke-width="1"/>
<rect x="946" y="242" width="1" height="31" fill="#000"/>
<rect x="944.5" y="248.5" width="4" height="8" fill="#fff" stroke="#000" stroke-width="1"/>
<rect x="954" y="241" width="1" height="8" fill="#000"/>
<rect x="952.5" y="241.5" width="4" height="7" fill="#fff" stroke="#000" stroke-width="1"/>
<rect x="962" y="232" width="1" height="32" fill="#000"/>
<rect x="960" y="241" width="5" height="6" fill="#000"/>
<rect x="970" y="208" width="1" height="43" fill="#000"/>
<rect x="968.5" y="214.5" width="4" height="32" fill="#fff" stroke="#000" stroke-width="1"/>
<rect x="978" y="196" width="1" height="43" fill="#000"/>
<rect x="976" y="214" width="5" height="15" fill="#000"/>
<rect x="986" y="225" width="1" height="44" fill="#000"/>
<rect x="984" y="227" width="5" height="36" fill="#000"/>
<rect x="994" y="237" width="1" height="30" fill="#000"/>
<rect x="992.5" y="243.5" width="4" height="18" fill="#fff" stroke="#000" stroke-width="1"/>
<rect x="1002" y="226" width="1" height="16" fill="#000"/>
<rect x="1000.5" y="228.5" width="4" height="12" fill="#fff" stroke="#000" stroke-width="1"/>
<rect x="1010" y="220" width="1" height="28" fill="#000"/>
<rect x="1008" y="228" width="5" height="1" fill="#000"/>
<rect x="1018" y="210" width="1" height="29" fill="#000"/>
<rect x="1016.5" y="215.5" width="4" height="12" fill="#fff" stroke="#000" stroke-width="1"/>
<rect x="1026" y="196" width="1" height="26" fill="#000"/>
<rect x="1024" y="215" width="5" height="4" fill="#000"/>
<rect x="1034" y="207" width="1" height="31" fill="#000"/>
<rect x="1032" y="219" width="5" height="1" fill="#000"/>
<rect x="1042" y="201" width="1" height="18" fill="#000"/>
<rect x="1040.5" y="207.5" width="4" height="11" fill="#fff" stroke="#000" stroke-width="1"/>
<rect x="1050" y="199" width="1" height="4" fill="#000"/>
<rect x="1048.5" y="199.5" width="4" height="3" fill="#fff" stroke="#000" stroke-width="1"/>
<rect x="1058" y="167" width="1" height="48" fill="#000"/>
<rect x="1056.5" y="191.5" width="4" height="8" fill="#fff" stroke="#000" stroke-width="1"/>
<rect x="1066" y="173" width="1" height="32" fill="#000"/>
<rect x="1064.5" y="179.5" width="4" height="12" fill="#fff" stroke="#000" stroke-width="1"/>
<rect x="1074" y="168" width="1" height="33" fill="#000"/>
<rect x="1072.5" y="172.5" width="4" height="7" fill="#fff" stroke="#000" stroke-width="1"/>
<rect x="1082" y="167" width="1" height="28" fill="#000"/>
<rect x="1080" y="172" width="5" height="12" fill="#000"/>
<rect x="1090" y="172" width="1" height="33" fill="#000"/>
<rect x="1088" y="182" width="5" height="19" fill="#000"/>
<rect x="1098" y="188" width="1" height="7" fill="#000"/>
<rect x="1096.5" y="189.5" width="4" height="3" fill="#fff" stroke="#000" stroke-width="1"/>
<rect x="1106" y="171" width="1" height="29" fill="#000"/>
<rect x="1104" y="189" width="5" height="1" fill="#000"/>
<rect x="1114" y="152" width="1" height="45" fill="#000"/>
<rect x="1112.5" y="159.5" width="4" height="29" fill="#fff" stroke="#000" stroke-width="1"/>
<rect x="1122" y="152" width="1" height="54" fill="#000"/>
<rect x="1120" y="158" width="5" height="21" fill="#000"/>
<rect x="1130" y="132" width="1" height="52" fill="#000"/>
<rect x="1128.5" y="148.5" width="4" height="29" fill="#fff" stroke="#000" stroke-width="1"/>
<rect x="1138" y="118" width="1" height="45" fill="#000"/>
<rect x="1136" y="148" width="5" height="4" fill="#000"/>
<rect x="1146" y="159" width="1" height="4" fill="#000"/>
<rect x="1144" y="160" width="5" height="3" fill="#000"/>
<rect x="1154" y="153" width="1" height="75" fill="#000"/>
<rect x="1152" y="161" width="5" height="22" fill="#000"/>
<rect x="1162" y="168" width="1" height="38" fill="#000"/>
<rect x="1160.5" y="178.5" width="4" height="3" fill="#fff" stroke="#000" stroke-width="1"/>
<rect x="1170" y="139" width="1" height="47" fill="#000"/>
<rect x="1168" y="179" width="5" height="1" fill="#000"/>
<rect x="1178" y="169" width="1" height="52" fill="#000"/>
<rect x="1176" y="178" width="5" height="24" fill="#000"/>
<rect x="1186" y="192" width="1" height="67" fill="#000"/>
<rect x="1184" y="200" width="5" height="27" fill="#000"/>
<rect x="1194" y="187" width="1" height="10" fill="#000"/>
<rect x="1192" y="192" width="5" height="5" fill="#000"/>
<rect x="1202" y="150" width="1" height="56" fill="#000"/>
<rect x="1200.5" y="192.5" width="4" height="4" fill="#fff" stroke="#000" stroke-width="1"/>
<rect x="1210" y="143" width="1" height="66" fill="#000"/>
<rect x="1208.5" y="150.5" width="4" height="41" fill="#fff" stroke="#000" stroke-width="1"/>
<rect x="1218" y="113" width="1" height="43" fill="#000"/>
<rect x="1216.5" y="131.5" width="4" height="19" fill="#fff" stroke="#000" stroke-width="1"/>
<rect x="1226" y="89" width="1" height="46" fill="#000"/>
<rect x="1224.5" y="108.5" width="4" height="24" fill="#fff" stroke="#000" stroke-width="1"/>
<rect x="1234" y="107" width="1" height="36" fill="#000"/>
<rect x="1232" y="108" width="5" height="23" fill="#000"/>
<rect x="1242" y="154" width="1" height="15" fill="#000"/>
<rect x="1240" y="156" width="5" height="12" fill="#000"/>
<rect x="1250" y="132" width="1" height="109" fill="#000"/>
<rect x="1248.5" y="150.5" width="4" height="15" fill="#fff" stroke="#000" stroke-width="1"/>
<rect x="1258" y="146" width="1" height="55" fill="#000"/>
<rect x="1256" y="150" width="5" height="17" fill="#000"/>
<rect x="1266" y="107" width="1" height="70" fill="#000"/>
<rect x="1264.5" y="128.5" width="4" height="38" fill="#fff" stroke="#000" stroke-width="1"/>
<rect x="1274" y="92" width="1" height="41" fill="#000"/>
<rect x="1272.5" y="118.5" width="4" height="12" fill="#fff" stroke="#000" stroke-width="1"/>
<rect x="1282" y="107" width="1" height="11" fill="#000"/>
<rect x="1280.5" y="108.5" width="4" height="6" fill="#fff" stroke="#000" stroke-width="1"/>
<rect x="1290" y="106" width="1" height="52" fill="#000"/>
<rect x="1288" y="107" width="5" height="38" fill="#000"/>
<rect x="1298" y="124" width="1" height="23" fill="#000"/>
<rect x="1296.5" y="134.5" width="4" height="10" fill="#fff" stroke="#000" stroke-width="1"/>
<rect x="1306" y="87" width="1" height="48" fill="#000"/>
<rect x="1304.5" y="88.5" width="4" height="46" fill="#fff" stroke="#000" stroke-width="1"/>
<rect x="1314" y="68" width="1" height="29" fill="#000"/>
<rect x="1312.5" y="77.5" width="4" height="10" fill="#fff" stroke="#000" stroke-width="1"/>
<rect x="1322" y="70" width="1" height="10" fill="#000"/>
<rect x="1320.5" y="70.5" width="4" height="8" fill="#fff" stroke="#000" stroke-width="1"/>
<rect x="1330" y="62" width="1" height="57" fill="#000"/>
<rect x="1328" y="70" width="5" height="39" fill="#000"/>
<rect x="1338" y="83" width="1" height="32" fill="#000"/>
<rect x="1336.5" y="88.5" width="4" height="20" fill="#fff" stroke="#000" stroke-width="1"/>
<rect x="1346" y="73" width="1" height="47" fill="#000"/>
<rect x="1344" y="89" width="5" height="1" fill="#000"/>
<rect x="1354" y="86" width="1" height="35" fill="#000"/>
<rect x="1352" y="90" width="5" height="20" fill="#000"/>
<rect x="1362" y="85" width="1" height="35" fill="#000"/>
<rect x="1360" y="108" width="5" height="4" fill="#000"/>
<rect x="1370" y="111" width="1" height="18" fill="#000"/>
<rect x="1368" y="115" width="5" height="10" fill="#000"/>
<rect x="1378" y="124" width="1" height="26" fill="#000"/>
<rect x="1376" y="125" width="5" height="1" fill="#000"/>
<rect x="1386" y="74" width="1" height="58" fill="#000"/>
<rect x="1384.5" y="75.5" width="4" height="49" fill="#fff" stroke="#000" stroke-width="1"/>
<rect x="1394" y="64" width="1" height="31" fill="#000"/>
<rect x="1392" y="74" width="5" height="9" fill="#000"/>
<rect x="1402" y="64" width="1" height="30" fill="#000"/>
<rect x="1400.5" y="69.5" width="4" height="12" fill="#fff" stroke="#000" stroke-width="1"/>
<rect x="1410" y="63" width="1" height="45" fill="#000"/>
<rect x="1408" y="69" width="5" height="37" fill="#000"/>
<rect x="1418" y="98" width="1" height="12" fill="#000"/>
<rect x="1416" y="105" width="5" height="5" fill="#000"/>
<rect x="1426" y="101" width="1" height="26" fill="#000"/>
<rect x="1424.5" y="103.5" width="4" height="5" fill="#fff" stroke="#000" stroke-width="1"/>
<rect x="1434" y="81" width="1" height="25" fill="#000"/>
<rect x="1432.5" y="82.5" width="4" height="22" fill="#fff" stroke="#000" stroke-width="1"/>
<rect x="1442" y="57" width="1" height="34" fill="#000"/>
<rect x="1440.5" y="74.5" width="4" height="7" fill="#fff" stroke="#000" stroke-width="1"/>
<rect x="1450" y="48" width="1" height="29" fill="#000"/>
<rect x="1448.5" y="53.5" width="4" height="23" fill="#fff" stroke="#000" stroke-width="1"/>
<rect x="1458" y="52" width="1" height="35" fill="#000"/>
<rect x="1456" y="53" width="5" height="18" fill="#000"/>
<rect x="1466" y="66" width="1" height="8" fill="#000"/>
<rect x="1464" y="67" width="5" height="4" fill="#000"/>
<rect x="1474" y="55" width="1" height="28" fill="#000"/>
<rect x="1472" y="68" width="5" height="5" fill="#000"/>
<rect x="1482" y="48" width="1" height="48" fill="#000"/>
<rect x="1480.5" y="52.5" width="4" height="19" fill="#fff" stroke="#000" stroke-width="1"/>
<rect x="1679.5" y="20.5" width="4" height="4" fill="#fff" stroke="#ff0000" stroke-width="1"/>
<rect x="1679.5" y="34.5" width="4" height="4" fill="#fff" stroke="#ff4500" stroke-width="1"/>
<rect x="1679.5" y="75.5" width="4" height="4" fill="#fff" stroke="#0000ff" stroke-width="1"/>
<rect x="1358" y="58" width="156" height="6" fill="#00ff00"/>
<polygon points="1492,20 1501,20 1496.5,25" fill="#b4b4b4"/>
<rect x="419.5" y="128.5" width="61" height="18" fill="#fff" stroke="#ff0000" stroke-width="1"/>
<text x="421.6" y="144" font-family='"Liberation Sans", "DejaVu Sans", sans-serif' font-size="16.6" fill="#ff0000" textLength="58.4" lengthAdjust="spacingAndGlyphs">1.34837</text>
<rect x="481" y="137" width="9" height="1" fill="#ff0000"/>
<rect x="571.5" y="405.5" width="61" height="18" fill="#fff" stroke="#ff0000" stroke-width="1"/>
<text x="573.6" y="421" font-family='"Liberation Sans", "DejaVu Sans", sans-serif' font-size="16.6" fill="#ff0000" textLength="58.4" lengthAdjust="spacingAndGlyphs">1.26749</text>
<rect x="633" y="414" width="9" height="1" fill="#ff0000"/>
<rect x="1115.5" y="248.5" width="61" height="18" fill="#fff" stroke="#ff0000" stroke-width="1"/>
<text x="1117.6" y="264" font-family='"Liberation Sans", "DejaVu Sans", sans-serif' font-size="16.6" fill="#ff0000" textLength="58.4" lengthAdjust="spacingAndGlyphs">1.31319</text>
<rect x="1177" y="257" width="9" height="1" fill="#ff0000"/>
<rect x="1307.5" y="139.5" width="61" height="18" fill="#fff" stroke="#ff0000" stroke-width="1"/>
<text x="1309.6" y="155" font-family='"Liberation Sans", "DejaVu Sans", sans-serif' font-size="16.6" fill="#ff0000" textLength="58.4" lengthAdjust="spacingAndGlyphs">1.34506</text>
<rect x="1369" y="148" width="9" height="1" fill="#ff0000"/>
<rect x="1379.5" y="38.5" width="61" height="18" fill="#fff" stroke="#ff0000" stroke-width="1"/>
<text x="1381.6" y="54" font-family='"Liberation Sans", "DejaVu Sans", sans-serif' font-size="16.6" fill="#ff0000" textLength="58.4" lengthAdjust="spacingAndGlyphs">1.37443</text>
<rect x="1441" y="47" width="9" height="1" fill="#ff0000"/>
<rect x="1213.5" y="49.5" width="73" height="24" fill="#fff" stroke="#ff0000" stroke-width="1"/>
<text x="1214.6" y="71" font-family='"Liberation Sans", "DejaVu Sans", sans-serif' font-size="23.6" fill="#ff0000" textLength="71.5" lengthAdjust="spacingAndGlyphs">1.37035</text>
<rect x="1203" y="61" width="10" height="1" fill="#ff0000"/>
<line x1="1192" y1="228" x2="1502" y2="48" stroke="#ff0000" stroke-width="3.6" shape-rendering="auto"/>
<polygon points="1511.5,42.5 1498,44.5 1503.5,53" fill="#ff0000" shape-rendering="auto"/>
<text x="1538" y="91.8" font-family='"Liberation Sans", "Noto Sans CJK SC", sans-serif' font-weight="300" font-size="20.5" fill="#00f000" textLength="110" lengthAdjust="spacingAndGlyphs">多空转折点</text>
<rect x="2" y="672" width="1" height="8" fill="#c0c0c0"/>
<rect x="10" y="671" width="1" height="9" fill="#c0c0c0"/>
<rect x="18" y="676" width="1" height="4" fill="#c0c0c0"/>
<rect x="26" y="679" width="1" height="1" fill="#c0c0c0"/>
<rect x="34" y="679" width="1" height="7" fill="#c0c0c0"/>
<rect x="42" y="679" width="1" height="12" fill="#c0c0c0"/>
<rect x="50" y="679" width="1" height="18" fill="#c0c0c0"/>
<rect x="58" y="679" width="1" height="18" fill="#c0c0c0"/>
<rect x="66" y="679" width="1" height="14" fill="#c0c0c0"/>
<rect x="74" y="679" width="1" height="11" fill="#c0c0c0"/>
<rect x="82" y="679" width="1" height="8" fill="#c0c0c0"/>
<rect x="90" y="679" width="1" height="6" fill="#c0c0c0"/>
<rect x="98" y="679" width="1" height="3" fill="#c0c0c0"/>
<rect x="106" y="676" width="1" height="4" fill="#c0c0c0"/>
<rect x="114" y="669" width="1" height="11" fill="#c0c0c0"/>
<rect x="122" y="664" width="1" height="16" fill="#c0c0c0"/>
<rect x="130" y="659" width="1" height="21" fill="#c0c0c0"/>
<rect x="138" y="656" width="1" height="24" fill="#c0c0c0"/>
<rect x="146" y="657" width="1" height="23" fill="#c0c0c0"/>
<rect x="154" y="657" width="1" height="23" fill="#c0c0c0"/>
<rect x="162" y="656" width="1" height="24" fill="#c0c0c0"/>
<rect x="170" y="658" width="1" height="22" fill="#c0c0c0"/>
<rect x="178" y="659" width="1" height="21" fill="#c0c0c0"/>
<rect x="186" y="660" width="1" height="20" fill="#c0c0c0"/>
<rect x="194" y="656" width="1" height="24" fill="#c0c0c0"/>
<rect x="202" y="650" width="1" height="30" fill="#c0c0c0"/>
<rect x="210" y="646" width="1" height="34" fill="#c0c0c0"/>
<rect x="218" y="643" width="1" height="37" fill="#c0c0c0"/>
<rect x="226" y="638" width="1" height="42" fill="#c0c0c0"/>
<rect x="234" y="634" width="1" height="46" fill="#c0c0c0"/>
<rect x="242" y="627" width="1" height="53" fill="#c0c0c0"/>
<rect x="250" y="621" width="1" height="59" fill="#c0c0c0"/>
<rect x="258" y="613" width="1" height="67" fill="#c0c0c0"/>
<rect x="266" y="602" width="1" height="78" fill="#c0c0c0"/>
<rect x="274" y="594" width="1" height="86" fill="#c0c0c0"/>
<rect x="282" y="589" width="1" height="91" fill="#c0c0c0"/>
<rect x="290" y="588" width="1" height="92" fill="#c0c0c0"/>
<rect x="298" y="587" width="1" height="93" fill="#c0c0c0"/>
<rect x="306" y="586" width="1" height="94" fill="#c0c0c0"/>
<rect x="314" y="585" width="1" height="95" fill="#c0c0c0"/>
<rect x="322" y="590" width="1" height="90" fill="#c0c0c0"/>
<rect x="330" y="595" width="1" height="85" fill="#c0c0c0"/>
<rect x="338" y="598" width="1" height="82" fill="#c0c0c0"/>
<rect x="346" y="603" width="1" height="77" fill="#c0c0c0"/>
<rect x="354" y="608" width="1" height="72" fill="#c0c0c0"/>
<rect x="362" y="612" width="1" height="68" fill="#c0c0c0"/>
<rect x="370" y="614" width="1" height="66" fill="#c0c0c0"/>
<rect x="378" y="616" width="1" height="64" fill="#c0c0c0"/>
<rect x="386" y="619" width="1" height="61" fill="#c0c0c0"/>
<rect x="394" y="614" width="1" height="66" fill="#c0c0c0"/>
<rect x="402" y="618" width="1" height="62" fill="#c0c0c0"/>
<rect x="410" y="616" width="1" height="64" fill="#c0c0c0"/>
<rect x="418" y="622" width="1" height="58" fill="#c0c0c0"/>
<rect x="426" y="627" width="1" height="53" fill="#c0c0c0"/>
<rect x="434" y="633" width="1" height="47" fill="#c0c0c0"/>
<rect x="442" y="634" width="1" height="46" fill="#c0c0c0"/>
<rect x="450" y="632" width="1" height="48" fill="#c0c0c0"/>
<rect x="458" y="632" width="1" height="48" fill="#c0c0c0"/>
<rect x="466" y="625" width="1" height="55" fill="#c0c0c0"/>
<rect x="474" y="620" width="1" height="60" fill="#c0c0c0"/>
<rect x="482" y="616" width="1" height="64" fill="#c0c0c0"/>
<rect x="490" y="612" width="1" height="68" fill="#c0c0c0"/>
<rect x="498" y="613" width="1" height="67" fill="#c0c0c0"/>
<rect x="506" y="618" width="1" height="62" fill="#c0c0c0"/>
<rect x="514" y="621" width="1" height="59" fill="#c0c0c0"/>
<rect x="522" y="627" width="1" height="53" fill="#c0c0c0"/>
<rect x="530" y="636" width="1" height="44" fill="#c0c0c0"/>
<rect x="538" y="653" width="1" height="27" fill="#c0c0c0"/>
<rect x="546" y="665" width="1" height="15" fill="#c0c0c0"/>
<rect x="554" y="679" width="1" height="6" fill="#c0c0c0"/>
<rect x="562" y="679" width="1" height="22" fill="#c0c0c0"/>
<rect x="570" y="679" width="1" height="33" fill="#c0c0c0"/>
<rect x="578" y="679" width="1" height="40" fill="#c0c0c0"/>
<rect x="586" y="679" width="1" height="43" fill="#c0c0c0"/>
<rect x="594" y="679" width="1" height="41" fill="#c0c0c0"/>
<rect x="602" y="679" width="1" height="38" fill="#c0c0c0"/>
<rect x="610" y="679" width="1" height="38" fill="#c0c0c0"/>
<rect x="618" y="679" width="1" height="37" fill="#c0c0c0"/>
<rect x="626" y="679" width="1" height="41" fill="#c0c0c0"/>
<rect x="634" y="679" width="1" height="48" fill="#c0c0c0"/>
<rect x="642" y="679" width="1" height="54" fill="#c0c0c0"/>
<rect x="650" y="679" width="1" height="57" fill="#c0c0c0"/>
<rect x="658" y="679" width="1" height="59" fill="#c0c0c0"/>
<rect x="666" y="679" width="1" height="59" fill="#c0c0c0"/>
<rect x="674" y="679" width="1" height="52" fill="#c0c0c0"/>
<rect x="682" y="679" width="1" height="47" fill="#c0c0c0"/>
<rect x="690" y="679" width="1" height="40" fill="#c0c0c0"/>
<rect x="698" y="679" width="1" height="35" fill="#c0c0c0"/>
<rect x="706" y="679" width="1" height="29" fill="#c0c0c0"/>
<rect x="714" y="679" width="1" height="24" fill="#c0c0c0"/>
<rect x="722" y="679" width="1" height="17" fill="#c0c0c0"/>
<rect x="730" y="679" width="1" height="16" fill="#c0c0c0"/>
<rect x="738" y="679" width="1" height="14" fill="#c0c0c0"/>
<rect x="746" y="679" width="1" height="11" fill="#c0c0c0"/>
<rect x="754" y="679" width="1" height="4" fill="#c0c0c0"/>
<rect x="762" y="677" width="1" height="3" fill="#c0c0c0"/>
<rect x="770" y="671" width="1" height="9" fill="#c0c0c0"/>
<rect x="778" y="673" width="1" height="7" fill="#c0c0c0"/>
<rect x="786" y="670" width="1" height="10" fill="#c0c0c0"/>
<rect x="794" y="674" width="1" height="6" fill="#c0c0c0"/>
<rect x="802" y="676" width="1" height="4" fill="#c0c0c0"/>
<rect x="810" y="677" width="1" height="3" fill="#c0c0c0"/>
<rect x="818" y="677" width="1" height="3" fill="#c0c0c0"/>
<rect x="826" y="677" width="1" height="3" fill="#c0c0c0"/>
<rect x="834" y="668" width="1" height="12" fill="#c0c0c0"/>
<rect x="842" y="664" width="1" height="16" fill="#c0c0c0"/>
<rect x="850" y="663" width="1" height="17" fill="#c0c0c0"/>
<rect x="858" y="662" width="1" height="18" fill="#c0c0c0"/>
<rect x="866" y="663" width="1" height="17" fill="#c0c0c0"/>
<rect x="874" y="663" width="1" height="17" fill="#c0c0c0"/>
<rect x="882" y="665" width="1" height="15" fill="#c0c0c0"/>
<rect x="890" y="670" width="1" height="10" fill="#c0c0c0"/>
<rect x="898" y="673" width="1" height="7" fill="#c0c0c0"/>
<rect x="906" y="677" width="1" height="3" fill="#c0c0c0"/>
<rect x="914" y="679" width="1" height="2" fill="#c0c0c0"/>
<rect x="922" y="672" width="1" height="8" fill="#c0c0c0"/>
<rect x="930" y="674" width="1" height="6" fill="#c0c0c0"/>
<rect x="938" y="667" width="1" height="13" fill="#c0c0c0"/>
<rect x="946" y="661" width="1" height="19" fill="#c0c0c0"/>
<rect x="954" y="655" width="1" height="25" fill="#c0c0c0"/>
<rect x="962" y="651" width="1" height="29" fill="#c0c0c0"/>
<rect x="970" y="644" width="1" height="36" fill="#c0c0c0"/>
<rect x="978" y="641" width="1" height="39" fill="#c0c0c0"/>
<rect x="986" y="644" width="1" height="36" fill="#c0c0c0"/>
<rect x="994" y="644" width="1" height="36" fill="#c0c0c0"/>
<rect x="1002" y="642" width="1" height="38" fill="#c0c0c0"/>
<rect x="1010" y="641" width="1" height="39" fill="#c0c0c0"/>
<rect x="1018" y="639" width="1" height="41" fill="#c0c0c0"/>
<rect x="1026" y="638" width="1" height="42" fill="#c0c0c0"/>
<rect x="1034" y="638" width="1" height="42" fill="#c0c0c0"/>
<rect x="1042" y="637" width="1" height="43" fill="#c0c0c0"/>
<rect x="1050" y="635" width="1" height="45" fill="#c0c0c0"/>
<rect x="1058" y="633" width="1" height="47" fill="#c0c0c0"/>
<rect x="1066" y="630" width="1" height="50" fill="#c0c0c0"/>
<rect x="1074" y="628" width="1" height="52" fill="#c0c0c0"/>
<rect x="1082" y="628" width="1" height="52" fill="#c0c0c0"/>
<rect x="1090" y="631" width="1" height="49" fill="#c0c0c0"/>
<rect x="1098" y="632" width="1" height="48" fill="#c0c0c0"/>
<rect x="1106" y="634" width="1" height="46" fill="#c0c0c0"/>
<rect x="1114" y="632" width="1" height="48" fill="#c0c0c0"/>
<rect x="1122" y="633" width="1" height="47" fill="#c0c0c0"/>
<rect x="1130" y="630" width="1" height="50" fill="#c0c0c0"/>
<rect x="1138" y="629" width="1" height="51" fill="#c0c0c0"/>
<rect x="1146" y="630" width="1" height="50" fill="#c0c0c0"/>
<rect x="1154" y="635" width="1" height="45" fill="#c0c0c0"/>
<rect x="1162" y="638" width="1" height="42" fill="#c0c0c0"/>
<rect x="1170" y="641" width="1" height="39" fill="#c0c0c0"/>
<rect x="1178" y="647" width="1" height="33" fill="#c0c0c0"/>
<rect x="1186" y="656" width="1" height="24" fill="#c0c0c0"/>
<rect x="1194" y="659" width="1" height="21" fill="#c0c0c0"/>
<rect x="1202" y="661" width="1" height="19" fill="#c0c0c0"/>
<rect x="1210" y="657" width="1" height="23" fill="#c0c0c0"/>
<rect x="1218" y="651" width="1" height="29" fill="#c0c0c0"/>
<rect x="1226" y="643" width="1" height="37" fill="#c0c0c0"/>
<rect x="1234" y="641" width="1" height="39" fill="#c0c0c0"/>
<rect x="1242" y="645" width="1" height="35" fill="#c0c0c0"/>
<rect x="1250" y="646" width="1" height="34" fill="#c0c0c0"/>
<rect x="1258" y="649" width="1" height="31" fill="#c0c0c0"/>
<rect x="1266" y="647" width="1" height="33" fill="#c0c0c0"/>
<rect x="1274" y="644" width="1" height="36" fill="#c0c0c0"/>
<rect x="1282" y="641" width="1" height="39" fill="#c0c0c0"/>
<rect x="1290" y="644" width="1" height="36" fill="#c0c0c0"/>
<rect x="1298" y="645" width="1" height="35" fill="#c0c0c0"/>
<rect x="1306" y="640" width="1" height="40" fill="#c0c0c0"/>
<rect x="1314" y="634" width="1" height="46" fill="#c0c0c0"/>
<rect x="1322" y="630" width="1" height="50" fill="#c0c0c0"/>
<rect x="1330" y="632" width="1" height="48" fill="#c0c0c0"/>
<rect x="1338" y="632" width="1" height="48" fill="#c0c0c0"/>
<rect x="1346" y="632" width="1" height="48" fill="#c0c0c0"/>
<rect x="1354" y="636" width="1" height="44" fill="#c0c0c0"/>
<rect x="1362" y="640" width="1" height="40" fill="#c0c0c0"/>
<rect x="1370" y="645" width="1" height="35" fill="#c0c0c0"/>
<rect x="1378" y="649" width="1" height="31" fill="#c0c0c0"/>
<rect x="1386" y="646" width="1" height="34" fill="#c0c0c0"/>
<rect x="1394" y="645" width="1" height="35" fill="#c0c0c0"/>
<rect x="1402" y="643" width="1" height="37" fill="#c0c0c0"/>
<rect x="1410" y="647" width="1" height="33" fill="#c0c0c0"/>
<rect x="1418" y="650" width="1" height="30" fill="#c0c0c0"/>
<rect x="1426" y="653" width="1" height="27" fill="#c0c0c0"/>
<rect x="1434" y="652" width="1" height="28" fill="#c0c0c0"/>
<rect x="1442" y="651" width="1" height="29" fill="#c0c0c0"/>
<rect x="1450" y="647" width="1" height="33" fill="#c0c0c0"/>
<rect x="1458" y="647" width="1" height="33" fill="#c0c0c0"/>
<rect x="1466" y="647" width="1" height="33" fill="#c0c0c0"/>
<rect x="1474" y="648" width="1" height="32" fill="#c0c0c0"/>
<rect x="1482" y="646" width="1" height="34" fill="#c0c0c0"/>
<polyline points="0.0,645.0 2.5,645.5 10.5,650.0 18.5,655.7 26.5,661.5 34.5,666.8 42.5,672.5 50.5,677.7 58.5,681.5 66.5,684.1 74.5,686.0 82.5,687.8 90.5,688.7 98.5,688.9 106.5,687.9 114.5,685.5 122.5,682.0 130.5,677.9 138.5,673.8 146.5,670.1 154.5,666.9 162.5,663.9 170.5,661.3 178.5,659.4 186.5,658.3 194.5,657.4 202.5,656.4 210.5,655.3 218.5,653.8 226.5,651.7 234.5,649.2 242.5,645.8 250.5,641.6 258.5,636.5 266.5,630.5 274.5,624.3 282.5,618.0 290.5,611.9 298.5,606.3 306.5,600.9 314.5,596.2 322.5,592.8 330.5,590.7 338.5,590.3 346.5,591.3 354.5,593.4 362.5,596.1 370.5,599.1 378.5,602.5 386.5,606.2 394.5,608.8 402.5,611.3 410.5,613.3 418.5,615.4 426.5,617.5 434.5,619.8 442.5,622.0 450.5,623.8 458.5,625.3 466.5,626.6 474.5,626.9 482.5,626.9 490.5,625.8 498.5,624.2 506.5,622.5 514.5,621.1 522.5,620.5 530.5,620.9 538.5,623.9 546.5,629.0 554.5,636.5 562.5,646.2 570.5,657.2 578.5,668.3 586.5,679.3 594.5,689.6 602.5,698.5 610.5,705.5 618.5,711.0 626.5,714.9 634.5,717.8 642.5,720.1 650.5,722.0 658.5,723.9 666.5,725.9 674.5,727.5 682.5,728.5 690.5,728.9 698.5,728.2 706.5,726.1 714.5,722.7 722.5,718.3 730.5,713.6 738.5,708.6 746.5,704.1 754.5,699.3 762.5,694.7 770.5,690.0 778.5,686.1 786.5,682.6 794.5,680.2 802.5,678.1 810.5,676.4 818.5,675.1 826.5,674.6 834.5,673.7 842.5,672.9 850.5,671.9 858.5,670.9 866.5,669.7 874.5,668.3 882.5,667.0 890.5,666.2 898.5,665.7 906.5,666.6 914.5,668.3 922.5,669.4 930.5,670.8 938.5,671.3 946.5,671.1 954.5,669.9 962.5,667.8 970.5,664.7 978.5,660.7 986.5,656.8 994.5,653.6 1002.5,650.0 1010.5,647.1 1018.5,644.7 1026.5,642.8 1034.5,641.3 1042.5,640.4 1050.5,639.7 1058.5,638.5 1066.5,637.0 1074.5,635.4 1082.5,634.0 1090.5,633.1 1098.5,632.5 1106.5,632.1 1114.5,631.5 1122.5,631.3 1130.5,630.9 1138.5,630.8 1146.5,631.1 1154.5,631.8 1162.5,632.6 1170.5,633.6 1178.5,635.1 1186.5,637.8 1194.5,640.7 1202.5,644.2 1210.5,647.2 1218.5,649.5 1226.5,650.5 1234.5,650.8 1242.5,651.1 1250.5,651.0 1258.5,650.2 1266.5,648.8 1274.5,646.9 1282.5,645.1 1290.5,644.3 1298.5,644.5 1306.5,644.4 1314.5,643.2 1322.5,641.5 1330.5,639.6 1338.5,638.0 1346.5,636.7 1354.5,636.2 1362.5,635.8 1370.5,635.8 1378.5,636.8 1386.5,638.1 1394.5,639.8 1402.5,641.0 1410.5,642.6 1418.5,644.6 1426.5,646.5 1434.5,647.8 1442.5,648.5 1450.5,648.2 1458.5,648.3 1466.5,648.5 1474.5,649.1 1482.5,649.0" fill="none" stroke="#ff0000" stroke-width="1" stroke-dasharray="3 3"/>
<line x1="1" y1="783.5" x2="1684" y2="783.5" stroke="#c0c0c0" stroke-width="1" stroke-dasharray="3 3"/>
<line x1="1" y1="834.5" x2="1684" y2="834.5" stroke="#c0c0c0" stroke-width="1" stroke-dasharray="3 3"/>
<line x1="1" y1="895.5" x2="1684" y2="895.5" stroke="#c0c0c0" stroke-width="1" stroke-dasharray="3 3"/>
<polyline points="0.0,837.9 2.5,833.3 10.5,831.0 18.5,842.7 26.5,840.8 34.5,848.8 42.5,848.7 50.5,851.5 58.5,841.7 66.5,833.1 74.5,833.4 82.5,831.4 90.5,832.3 98.5,829.2 106.5,823.6 114.5,815.9 122.5,817.1 130.5,814.7 138.5,814.7 146.5,828.0 154.5,825.7 162.5,822.5 170.5,828.1 178.5,827.2 186.5,827.0 194.5,813.5 202.5,805.6 210.5,807.0 218.5,806.5 226.5,800.0 234.5,799.6 242.5,791.0 250.5,788.2 258.5,784.4 266.5,777.2 274.5,779.4 282.5,781.0 290.5,786.3 298.5,785.7 306.5,782.9 314.5,782.2 322.5,803.6 330.5,804.0 338.5,801.1 346.5,807.9 354.5,808.3 362.5,805.2 370.5,802.6 378.5,800.8 386.5,801.4 394.5,786.3 402.5,817.3 410.5,806.6 418.5,825.4 426.5,825.5 434.5,828.7 442.5,819.9 450.5,813.2 458.5,816.0 466.5,803.9 474.5,803.0 482.5,802.4 490.5,799.7 498.5,809.0 506.5,822.1 514.5,819.2 522.5,825.4 530.5,836.9 538.5,855.7 546.5,851.5 554.5,865.1 562.5,866.1 570.5,864.0 578.5,858.3 586.5,853.7 594.5,844.3 602.5,842.5 610.5,847.3 618.5,846.4 626.5,857.2 634.5,863.1 642.5,865.1 650.5,859.1 658.5,861.3 666.5,855.7 674.5,840.8 682.5,841.9 690.5,835.6 698.5,839.2 706.5,833.2 714.5,833.5 722.5,825.9 730.5,840.0 738.5,835.9 746.5,832.9 754.5,821.6 762.5,822.8 770.5,819.2 778.5,836.4 786.5,827.9 794.5,840.0 802.5,837.0 810.5,837.6 818.5,834.7 826.5,833.7 834.5,815.4 842.5,822.3 850.5,827.7 858.5,825.8 866.5,831.0 874.5,829.1 882.5,834.7 890.5,842.0 898.5,838.3 906.5,842.6 914.5,842.8 922.5,818.4 930.5,837.0 938.5,821.4 946.5,819.6 954.5,817.9 962.5,819.5 970.5,812.1 978.5,817.1 986.5,829.1 994.5,824.0 1002.5,820.2 1010.5,820.0 1018.5,816.7 1026.5,817.7 1034.5,818.2 1042.5,814.8 1050.5,812.4 1058.5,810.0 1066.5,806.4 1074.5,804.5 1082.5,810.6 1090.5,820.1 1098.5,816.3 1106.5,816.1 1114.5,806.2 1122.5,816.7 1130.5,807.6 1138.5,809.2 1146.5,815.2 1154.5,825.2 1162.5,824.0 1170.5,824.1 1178.5,835.3 1186.5,846.0 1194.5,832.6 1202.5,831.4 1210.5,816.5 1218.5,811.0 1226.5,805.0 1234.5,815.2 1242.5,830.1 1250.5,825.0 1258.5,830.8 1266.5,819.8 1274.5,817.0 1282.5,814.5 1290.5,828.5 1298.5,825.3 1306.5,813.5 1314.5,811.0 1322.5,809.5 1330.5,823.9 1338.5,818.9 1346.5,819.1 1354.5,826.7 1362.5,827.5 1370.5,832.4 1378.5,832.8 1386.5,817.0 1394.5,819.7 1402.5,816.2 1410.5,830.4 1418.5,831.8 1426.5,829.9 1434.5,822.8 1442.5,820.3 1450.5,813.9 1458.5,821.4 1466.5,821.6 1474.5,822.3 1482.5,815.3" fill="none" stroke="#1e90ff" stroke-width="1" />
<rect x="0" y="20" width="1685" height="1" fill="#000"/>
<rect x="0" y="573" width="1685" height="1" fill="#000"/>
<rect x="0" y="575" width="1685" height="1" fill="#000"/>
<rect x="0" y="745" width="1685" height="1" fill="#000"/>
<rect x="0" y="747" width="1685" height="1" fill="#000"/>
<rect x="0" y="921" width="1685" height="1" fill="#000"/>
<rect x="1684" y="20" width="1" height="902" fill="#000"/>
<rect x="1730" y="17" width="1" height="920" fill="#e3e3e3"/>
<rect x="1685" y="108" width="2" height="1" fill="#000"/>
<text x="1690" y="111.5" font-family='"Liberation Sans", "DejaVu Sans", sans-serif' font-size="9.4" fill="#000" textLength="32.1" lengthAdjust="spacingAndGlyphs">1.35680</text>
<rect x="1685" y="141" width="2" height="1" fill="#000"/>
<text x="1690" y="144.5" font-family='"Liberation Sans", "DejaVu Sans", sans-serif' font-size="9.4" fill="#000" textLength="32.1" lengthAdjust="spacingAndGlyphs">1.34705</text>
<rect x="1685" y="174" width="2" height="1" fill="#000"/>
<text x="1690" y="177.5" font-family='"Liberation Sans", "DejaVu Sans", sans-serif' font-size="9.4" fill="#000" textLength="32.1" lengthAdjust="spacingAndGlyphs">1.33755</text>
<rect x="1685" y="207" width="2" height="1" fill="#000"/>
<text x="1690" y="210.5" font-family='"Liberation Sans", "DejaVu Sans", sans-serif' font-size="9.4" fill="#000" textLength="32.1" lengthAdjust="spacingAndGlyphs">1.32780</text>
<rect x="1685" y="240" width="2" height="1" fill="#000"/>
<text x="1690" y="243.5" font-family='"Liberation Sans", "DejaVu Sans", sans-serif' font-size="9.4" fill="#000" textLength="32.1" lengthAdjust="spacingAndGlyphs">1.31830</text>
<rect x="1685" y="273" width="2" height="1" fill="#000"/>
<text x="1690" y="276.5" font-family='"Liberation Sans", "DejaVu Sans", sans-serif' font-size="9.4" fill="#000" textLength="32.1" lengthAdjust="spacingAndGlyphs">1.30855</text>
<rect x="1685" y="306" width="2" height="1" fill="#000"/>
<text x="1690" y="309.5" font-family='"Liberation Sans", "DejaVu Sans", sans-serif' font-size="9.4" fill="#000" textLength="32.1" lengthAdjust="spacingAndGlyphs">1.29905</text>
<rect x="1685" y="339" width="2" height="1" fill="#000"/>
<text x="1690" y="342.5" font-family='"Liberation Sans", "DejaVu Sans", sans-serif' font-size="9.4" fill="#000" textLength="32.1" lengthAdjust="spacingAndGlyphs">1.28930</text>
<rect x="1685" y="372" width="2" height="1" fill="#000"/>
<text x="1690" y="375.5" font-family='"Liberation Sans", "DejaVu Sans", sans-serif' font-size="9.4" fill="#000" textLength="32.1" lengthAdjust="spacingAndGlyphs">1.27980</text>
<rect x="1685" y="405" width="2" height="1" fill="#000"/>
<text x="1690" y="408.5" font-family='"Liberation Sans", "DejaVu Sans", sans-serif' font-size="9.4" fill="#000" textLength="32.1" lengthAdjust="spacingAndGlyphs">1.27005</text>
<rect x="1685" y="438" width="2" height="1" fill="#000"/>
<text x="1690" y="441.5" font-family='"Liberation Sans", "DejaVu Sans", sans-serif' font-size="9.4" fill="#000" textLength="32.1" lengthAdjust="spacingAndGlyphs">1.26055</text>
<rect x="1685" y="471" width="2" height="1" fill="#000"/>
<text x="1690" y="474.5" font-family='"Liberation Sans", "DejaVu Sans", sans-serif' font-size="9.4" fill="#000" textLength="32.1" lengthAdjust="spacingAndGlyphs">1.25080</text>
<rect x="1685" y="504" width="2" height="1" fill="#000"/>
<text x="1690" y="507.5" font-family='"Liberation Sans", "DejaVu Sans", sans-serif' font-size="9.4" fill="#000" textLength="32.1" lengthAdjust="spacingAndGlyphs">1.24130</text>
<rect x="1685" y="537" width="2" height="1" fill="#000"/>
<text x="1690" y="540.5" font-family='"Liberation Sans", "DejaVu Sans", sans-serif' font-size="9.4" fill="#000" textLength="32.1" lengthAdjust="spacingAndGlyphs">1.23155</text>
<rect x="1685" y="570" width="2" height="1" fill="#000"/>
<text x="1690" y="573.5" font-family='"Liberation Sans", "DejaVu Sans", sans-serif' font-size="9.4" fill="#000" textLength="32.1" lengthAdjust="spacingAndGlyphs">1.22205</text>
<rect x="1685" y="42" width="2" height="1" fill="#000"/>
<text x="1690" y="45.5" font-family='"Liberation Sans", "DejaVu Sans", sans-serif' font-size="9.4" fill="#000" textLength="32.1" lengthAdjust="spacingAndGlyphs">1.37605</text>
<rect x="1686" y="18" width="41" height="9" fill="#ff0000"/>
<text x="1690.5" y="25" font-family='"Liberation Sans", "DejaVu Sans", sans-serif' font-size="9.4" fill="#fff" textLength="32.2" lengthAdjust="spacingAndGlyphs">1.38171</text>
<rect x="1686" y="30" width="41" height="11" fill="#ff4500"/>
<text x="1690.5" y="39" font-family='"Liberation Sans", "DejaVu Sans", sans-serif' font-size="9.4" fill="#fff" textLength="32.2" lengthAdjust="spacingAndGlyphs">1.37763</text>
<rect x="1686" y="46" width="41" height="11" fill="#000000"/>
<text x="1690.5" y="55" font-family='"Liberation Sans", "DejaVu Sans", sans-serif' font-size="9.4" fill="#fff" textLength="32.2" lengthAdjust="spacingAndGlyphs">1.37339</text>
<rect x="1686" y="55" width="41" height="11" fill="#32cd32"/>
<text x="1690.5" y="64" font-family='"Liberation Sans", "DejaVu Sans", sans-serif' font-size="9.4" fill="#fff" textLength="32.2" lengthAdjust="spacingAndGlyphs">1.37035</text>
<rect x="1686" y="71" width="41" height="11" fill="#0000ff"/>
<text x="1690.5" y="80" font-family='"Liberation Sans", "DejaVu Sans", sans-serif' font-size="9.4" fill="#fff" textLength="32.2" lengthAdjust="spacingAndGlyphs">1.36570</text>
<rect x="1686" y="85" width="41" height="11" fill="#0000ff"/>
<text x="1690.5" y="94" font-family='"Liberation Sans", "DejaVu Sans", sans-serif' font-size="9.4" fill="#fff" textLength="32.2" lengthAdjust="spacingAndGlyphs">1.36162</text>
<rect x="1685" y="577" width="2" height="1" fill="#000"/>
<text x="1688" y="586" font-family='"Liberation Sans", "DejaVu Sans", sans-serif' font-size="9.4" fill="#000" textLength="27.2" lengthAdjust="spacingAndGlyphs">0.0165</text>
<rect x="1685" y="679" width="2" height="1" fill="#000"/>
<text x="1688" y="682.5" font-family='"Liberation Sans", "DejaVu Sans", sans-serif' font-size="9.4" fill="#000" textLength="17.4" lengthAdjust="spacingAndGlyphs">0.00</text>
<rect x="1685" y="744" width="2" height="1" fill="#000"/>
<text x="1688.3" y="741" font-family='"Liberation Sans", "DejaVu Sans", sans-serif' font-size="9.4" fill="#000" textLength="40.1" lengthAdjust="spacingAndGlyphs">-0.010571</text>
<rect x="1685" y="749" width="2" height="1" fill="#000"/>
<text x="1688.3" y="758" font-family='"Liberation Sans", "DejaVu Sans", sans-serif' font-size="9.4" fill="#000" textLength="14.7" lengthAdjust="spacingAndGlyphs">100</text>
<rect x="1685" y="783" width="2" height="1" fill="#000"/>
<text x="1687.3" y="786.5" font-family='"Liberation Sans", "DejaVu Sans", sans-serif' font-size="9.4" fill="#000" textLength="9.8" lengthAdjust="spacingAndGlyphs">80</text>
<rect x="1685" y="834" width="2" height="1" fill="#000"/>
<text x="1687.5" y="837.5" font-family='"Liberation Sans", "DejaVu Sans", sans-serif' font-size="9.4" fill="#000" textLength="9.8" lengthAdjust="spacingAndGlyphs">50</text>
<rect x="1685" y="895" width="2" height="1" fill="#000"/>
<text x="1687.5" y="898.5" font-family='"Liberation Sans", "DejaVu Sans", sans-serif' font-size="9.4" fill="#000" textLength="9.8" lengthAdjust="spacingAndGlyphs">15</text>
<rect x="1685" y="920" width="2" height="1" fill="#000"/>
<text x="1688" y="917" font-family='"Liberation Sans", "DejaVu Sans", sans-serif' font-size="9.4" fill="#000" textLength="4.9" lengthAdjust="spacingAndGlyphs">0</text>
<rect x="-6" y="922" width="1" height="4" fill="#000"/>
<text x="-6" y="933.8" font-family='"Liberation Sans", "DejaVu Sans", sans-serif' font-size="10" fill="#000" textLength="49.3" lengthAdjust="spacingAndGlyphs">21 Jun 2020</text>
<rect x="58" y="922" width="1" height="4" fill="#000"/>
<text x="58" y="933.8" font-family='"Liberation Sans", "DejaVu Sans", sans-serif' font-size="10" fill="#000" textLength="49.3" lengthAdjust="spacingAndGlyphs">30 Jun 2020</text>
<rect x="122" y="922" width="1" height="4" fill="#000"/>
<text x="122" y="933.8" font-family='"Liberation Sans", "DejaVu Sans", sans-serif' font-size="10" fill="#000" textLength="41.3" lengthAdjust="spacingAndGlyphs">9 Jul 2020</text>
<rect x="186" y="922" width="1" height="4" fill="#000"/>
<text x="186" y="933.8" font-family='"Liberation Sans", "DejaVu Sans", sans-serif' font-size="10" fill="#000" textLength="46.3" lengthAdjust="spacingAndGlyphs">19 Jul 2020</text>
<rect x="250" y="922" width="1" height="4" fill="#000"/>
<text x="250" y="933.8" font-family='"Liberation Sans", "DejaVu Sans", sans-serif' font-size="10" fill="#000" textLength="46.3" lengthAdjust="spacingAndGlyphs">28 Jul 2020</text>
<rect x="314" y="922" width="1" height="4" fill="#000"/>
<text x="314" y="933.8" font-family='"Liberation Sans", "DejaVu Sans", sans-serif' font-size="10" fill="#000" textLength="45.3" lengthAdjust="spacingAndGlyphs">6 Aug 2020</text>
<rect x="378" y="922" width="1" height="4" fill="#000"/>
<text x="378" y="933.8" font-family='"Liberation Sans", "DejaVu Sans", sans-serif' font-size="10" fill="#000" textLength="50.3" lengthAdjust="spacingAndGlyphs">16 Aug 2020</text>
<rect x="442" y="922" width="1" height="4" fill="#000"/>
<text x="442" y="933.8" font-family='"Liberation Sans", "DejaVu Sans", sans-serif' font-size="10" fill="#000" textLength="50.3" lengthAdjust="spacingAndGlyphs">25 Aug 2020</text>
<rect x="506" y="922" width="1" height="4" fill="#000"/>
<text x="506" y="933.8" font-family='"Liberation Sans", "DejaVu Sans", sans-serif' font-size="10" fill="#000" textLength="45.8" lengthAdjust="spacingAndGlyphs">3 Sep 2020</text>
<rect x="570" y="922" width="1" height="4" fill="#000"/>
<text x="570" y="933.8" font-family='"Liberation Sans", "DejaVu Sans", sans-serif' font-size="10" fill="#000" textLength="50.8" lengthAdjust="spacingAndGlyphs">13 Sep 2020</text>
<rect x="634" y="922" width="1" height="4" fill="#000"/>
<text x="634" y="933.8" font-family='"Liberation Sans", "DejaVu Sans", sans-serif' font-size="10" fill="#000" textLength="50.8" lengthAdjust="spacingAndGlyphs">22 Sep 2020</text>
<rect x="698" y="922" width="1" height="4" fill="#000"/>
<text x="698" y="933.8" font-family='"Liberation Sans", "DejaVu Sans", sans-serif' font-size="10" fill="#000" textLength="43.8" lengthAdjust="spacingAndGlyphs">1 Oct 2020</text>
<rect x="762" y="922" width="1" height="4" fill="#000"/>
<text x="762" y="933.8" font-family='"Liberation Sans", "DejaVu Sans", sans-serif' font-size="10" fill="#000" textLength="48.1" lengthAdjust="spacingAndGlyphs">11 Oct 2020</text>
<rect x="826" y="922" width="1" height="4" fill="#000"/>
<text x="826" y="933.8" font-family='"Liberation Sans", "DejaVu Sans", sans-serif' font-size="10" fill="#000" textLength="48.8" lengthAdjust="spacingAndGlyphs">20 Oct 2020</text>
<rect x="890" y="922" width="1" height="4" fill="#000"/>
<text x="890" y="933.8" font-family='"Liberation Sans", "DejaVu Sans", sans-serif' font-size="10" fill="#000" textLength="48.8" lengthAdjust="spacingAndGlyphs">29 Oct 2020</text>
<rect x="954" y="922" width="1" height="4" fill="#000"/>
<text x="954" y="933.8" font-family='"Liberation Sans", "DejaVu Sans", sans-serif' font-size="10" fill="#000" textLength="45.8" lengthAdjust="spacingAndGlyphs">8 Nov 2020</text>
<rect x="1018" y="922" width="1" height="4" fill="#000"/>
<text x="1018" y="933.8" font-family='"Liberation Sans", "DejaVu Sans", sans-serif' font-size="10" fill="#000" textLength="50.8" lengthAdjust="spacingAndGlyphs">17 Nov 2020</text>
<rect x="1082" y="922" width="1" height="4" fill="#000"/>
<text x="1082" y="933.8" font-family='"Liberation Sans", "DejaVu Sans", sans-serif' font-size="10" fill="#000" textLength="50.8" lengthAdjust="spacingAndGlyphs">26 Nov 2020</text>
<rect x="1146" y="922" width="1" height="4" fill="#000"/>
<text x="1146" y="933.8" font-family='"Liberation Sans", "DejaVu Sans", sans-serif' font-size="10" fill="#000" textLength="45.8" lengthAdjust="spacingAndGlyphs">6 Dec 2020</text>
<rect x="1210" y="922" width="1" height="4" fill="#000"/>
<text x="1210" y="933.8" font-family='"Liberation Sans", "DejaVu Sans", sans-serif' font-size="10" fill="#000" textLength="50.8" lengthAdjust="spacingAndGlyphs">15 Dec 2020</text>
<rect x="1274" y="922" width="1" height="4" fill="#000"/>
<text x="1274" y="933.8" font-family='"Liberation Sans", "DejaVu Sans", sans-serif' font-size="10" fill="#000" textLength="50.8" lengthAdjust="spacingAndGlyphs">24 Dec 2020</text>
<rect x="1338" y="922" width="1" height="4" fill="#000"/>
<text x="1338" y="933.8" font-family='"Liberation Sans", "DejaVu Sans", sans-serif' font-size="10" fill="#000" textLength="44.3" lengthAdjust="spacingAndGlyphs">5 Jan 2021</text>
<rect x="1402" y="922" width="1" height="4" fill="#000"/>
<text x="1402" y="933.8" font-family='"Liberation Sans", "DejaVu Sans", sans-serif' font-size="10" fill="#000" textLength="49.3" lengthAdjust="spacingAndGlyphs">14 Jan 2021</text>
<rect x="1466" y="922" width="1" height="4" fill="#000"/>
<text x="1466" y="933.8" font-family='"Liberation Sans", "DejaVu Sans", sans-serif' font-size="10" fill="#000" textLength="49.3" lengthAdjust="spacingAndGlyphs">24 Jan 2021</text>
<text x="9.2" y="32.3" font-family='"Liberation Sans", "DejaVu Sans", sans-serif' font-size="10" fill="#000" textLength="66.5" lengthAdjust="spacingAndGlyphs">GBPUSD-,Daily</text>
<text x="82.4" y="32.3" font-family='"Liberation Sans", "DejaVu Sans", sans-serif' font-size="10" fill="#000" textLength="140.6" lengthAdjust="spacingAndGlyphs">1.36752 1.37435 1.36088 1.37339</text>
<polygon points="0,26.5 4,31 0,31" fill="#000"/>
<text x="-1" y="588" font-family='"Liberation Sans", "DejaVu Sans", sans-serif' font-size="10" fill="#000" textLength="146" lengthAdjust="spacingAndGlyphs">MACD(12,26,9) 0.005451 0.004932</text>
<text x="-1" y="760" font-family='"Liberation Sans", "DejaVu Sans", sans-serif' font-size="10" fill="#000" textLength="66" lengthAdjust="spacingAndGlyphs">RSI(14) 61.5047</text>
</svg>
<div id="trade">
<svg style="position:absolute;left:0;top:-40px" width="217" height="104" viewBox="0 0 217 104" shape-rendering="crispEdges">
<defs><linearGradient id="tg" x1="0" y1="40" x2="0" y2="104" gradientUnits="userSpaceOnUse">
<stop offset="0" stop-color="#5858ff"/><stop offset="0.35" stop-color="#3c3ce9"/><stop offset="0.39" stop-color="#3535e2"/><stop offset="0.65" stop-color="#1c1ccc"/><stop offset="1" stop-color="#0000a6"/></linearGradient></defs>
<rect x="0" y="40" width="217" height="64" fill="#fff"/>
<path d="M0.5 40.5 H48.5 V64.5 H105.5 V103.5 H0.5 Z" fill="url(#tg)" stroke="#0000b4" stroke-width="1"/>
<path d="M215.5 40.5 H164.5 V64.5 H108.5 V103.5 H215.5 Z" fill="url(#tg)" stroke="#0000b4" stroke-width="1"/>
<rect x="1" y="40" width="47" height="24" fill="url(#tg)"/>
<rect x="165" y="40" width="50" height="24" fill="url(#tg)"/>
<rect x="1" y="41" width="47" height="23" fill="url(#tg)"/>
<rect x="1" y="63" width="45" height="1" fill="#00008a"/><rect x="1" y="64" width="45" height="1" fill="#7c7cff"/>
<rect x="168" y="63" width="45" height="1" fill="#00008a"/><rect x="168" y="64" width="45" height="1" fill="#7c7cff"/>
<!-- spinner -->
<rect x="51.5" y="40.5" width="110" height="21" fill="#fff" stroke="#a9a9a9"/>
<defs><linearGradient id="sg" x1="0" y1="0" x2="0" y2="1"><stop offset="0" stop-color="#f6f6f6"/><stop offset="0.45" stop-color="#ececec"/><stop offset="0.5" stop-color="#dedede"/><stop offset="1" stop-color="#d4d4d4"/></linearGradient></defs>
<rect x="52.5" y="41.5" width="19" height="19" fill="url(#sg)" stroke="#c4c4c4"/>
<rect x="141.5" y="41.5" width="19" height="19" fill="url(#sg)" stroke="#c4c4c4"/>
<g shape-rendering="auto">
<path d="M58.5 49 h6 l-3 3.5 z" fill="#5a6ad0"/>
<path d="M147.5 52.5 h6 l-3 -3.5 z" fill="#5a6ad0"/>
<text x="113.3" y="55.2" font-family='"Liberation Sans",sans-serif' font-size="12.6" fill="#111" textLength="23.4" lengthAdjust="spacingAndGlyphs">1.00</text>
<g fill="#fff" font-family='"Liberation Sans",sans-serif'>
<text x="9.6" y="56.2" font-size="12.4" textLength="25.4" lengthAdjust="spacingAndGlyphs">SELL</text>
<text x="177.3" y="56.2" font-size="12.4" textLength="23.5" lengthAdjust="spacingAndGlyphs">BUY</text>
<text x="17.6" y="94.9" font-size="12.6" font-weight="bold" textLength="23.2" lengthAdjust="spacingAndGlyphs">1.37</text>
<text x="44.9" y="95" font-size="33.5" textLength="34" lengthAdjust="spacingAndGlyphs">33</text>
<text x="83.5" y="79" font-size="12.5" font-weight="bold">9</text>
<text x="127.3" y="94.9" font-size="12.6" font-weight="bold" textLength="23.2" lengthAdjust="spacingAndGlyphs">1.37</text>
<text x="155.8" y="95" font-size="33.5" textLength="34.6" lengthAdjust="spacingAndGlyphs">38</text>
<text x="194.6" y="79" font-size="12.5" font-weight="bold">4</text>
</g></g>
</svg>

</div>
</body></html>
